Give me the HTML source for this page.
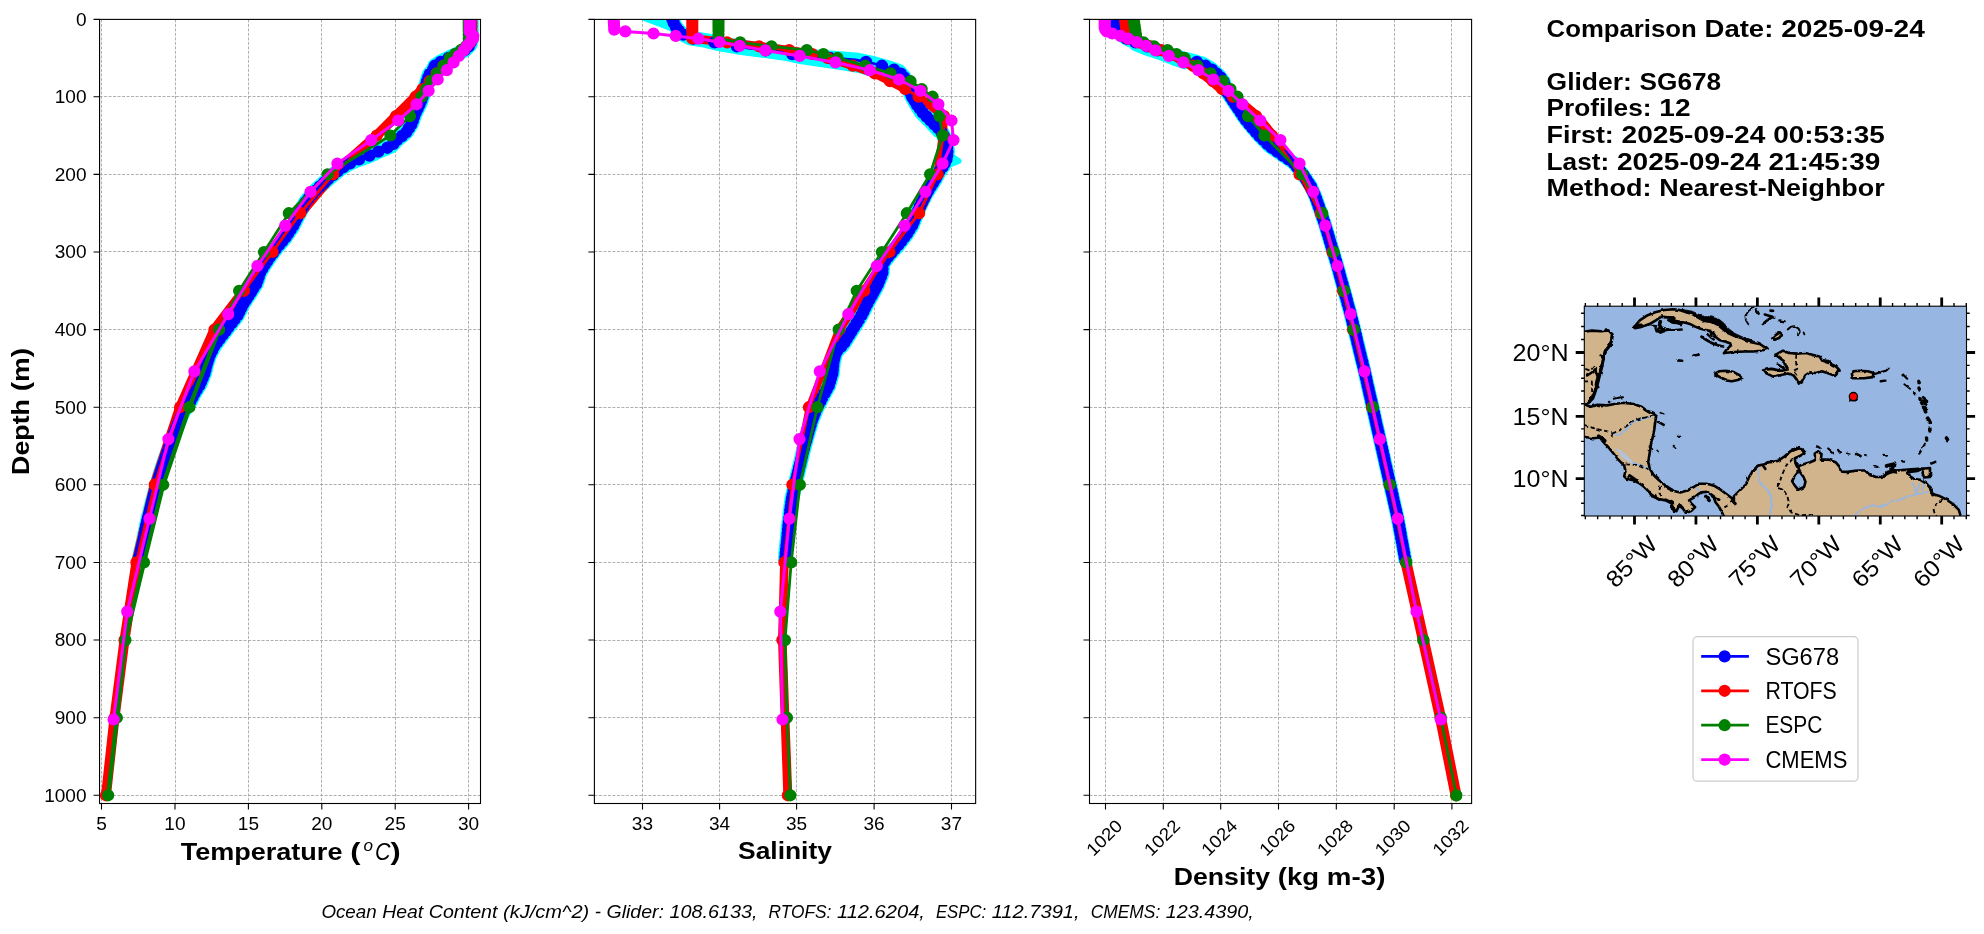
<!DOCTYPE html>
<html lang="en"><head><meta charset="utf-8"><title>Glider vs model comparison 2025-09-24</title>
<style>html,body{margin:0;padding:0;background:#fff}svg{display:block;will-change:transform}</style></head>
<body>
<svg width="1984" height="934" viewBox="0 0 1984 934" font-family="'Liberation Sans', sans-serif" fill="#000">
<rect width="1984" height="934" fill="#fff"/>
<g id="axes1">
<clipPath id="clip0"><rect x="99.55" y="19.4" width="380.95" height="784.1"/></clipPath>
<path d="M101.5 19.4V803.5M175.5 19.4V803.5M248.5 19.4V803.5M321.5 19.4V803.5M395.5 19.4V803.5M468.5 19.4V803.5M99.55 96.5H480.5M99.55 174.5H480.5M99.55 251.5H480.5M99.55 329.5H480.5M99.55 407.5H480.5M99.55 484.5H480.5M99.55 562.5H480.5M99.55 640.5H480.5M99.55 717.5H480.5M99.55 795.5H480.5" stroke="#9c9c9c" stroke-width="0.8" stroke-dasharray="3.0 1.5" fill="none"/>
<g clip-path="url(#clip0)">
<path d="M471.3 19.0L471.3 40.0L470.0 45.0L465.0 50.0L457.5 54.0L449.0 57.8L441.0 61.7L435.0 65.6L433.0 70.0L429.5 74.0L427.0 81.0L425.0 88.9L422.5 96.7L420.8 102.0L415.0 114.0L411.5 124.0L406.5 132.0L402.0 136.0L397.0 140.0L391.2 146.2L383.3 149.3L375.5 152.9L365.8 157.1L356.7 160.2L348.9 163.8L341.0 168.6L328.9 178.4L316.8 189.3L305.9 201.4L298.7 214.7L292.6 226.8L285.3 237.7L278.1 246.1L270.8 255.8L265.0 264.3L260.1 272.5L256.5 283.4L250.4 293.1L243.2 304.0L237.1 316.1L228.7 327.0L221.4 336.6L214.2 346.3L209.3 356.0L206.5 365.0L204.9 372.3L200.0 384.4L194.0 394.1L189.1 403.8L183.1 412.2L179.5 420.7L175.8 429.2L171.0 442.5L168.7 449.3L163.8 462.6L160.2 473.5L159.2 477.4L153.2 498.0L147.1 522.2L143.5 540.3L138.6 560.9" stroke="#00ffff" stroke-width="14.8" fill="none" stroke-linejoin="round" stroke-linecap="butt"/>
<path d="M471.0 19.1L471.0 20.7L471.0 22.2L471.0 23.8L471.0 25.3L471.0 26.9L471.0 28.4L471.0 30.7L471.0 34.6L471.0 38.5L470.0 42.4L466.5 46.3L461.5 50.1L455.5 54.0L450.5 57.9L443.5 65.7L436.5 73.4L429.5 81.2L422.5 89.0L415.5 96.7L396.0 116.1L376.7 135.5L333.1 174.3L300.3 213.2L272.5 252.0L244.0 290.8L214.5 329.6L180.1 407.2L154.7 484.8L136.4 562.4L124.5 640.1L114.5 717.7L106.0 795.3" stroke="#ff0000" stroke-width="10.0" fill="none" stroke-linejoin="round"/>
<path d="M471.3 19.0L471.3 40.0L470.0 45.0L465.0 50.0L457.5 54.0L449.0 57.8L441.0 61.7L435.0 65.6L433.0 70.0L429.5 74.0L427.0 81.0L425.0 88.9L422.5 96.7L420.8 102.0L415.0 114.0L411.5 124.0L406.5 132.0L402.0 136.0L397.0 140.0L391.2 146.2L383.3 149.3L375.5 152.9L365.8 157.1L356.7 160.2L348.9 163.8L341.0 168.6L328.9 178.4L316.8 189.3L305.9 201.4L298.7 214.7L292.6 226.8L285.3 237.7L278.1 246.1L270.8 255.8L265.0 264.3L260.1 272.5L256.5 283.4L250.4 293.1L243.2 304.0L237.1 316.1L228.7 327.0L221.4 336.6L214.2 346.3L209.3 356.0L206.5 365.0L204.9 372.3L200.0 384.4L194.0 394.1L189.1 403.8L183.1 412.2L179.5 420.7L175.8 429.2L171.0 442.5L168.7 449.3L163.8 462.6L160.2 473.5L159.2 477.4L153.2 498.0L147.1 522.2L143.5 540.3L138.6 560.9" stroke="#0000ff" stroke-width="2.8" fill="none" stroke-linejoin="round"/>
<path d="M465.1 19.0a6.199999999999999 6.199999999999999 0 1 0 12.399999999999999 0a6.199999999999999 6.199999999999999 0 1 0 -12.399999999999999 0zM465.1 22.9a6.199999999999999 6.199999999999999 0 1 0 12.399999999999999 0a6.199999999999999 6.199999999999999 0 1 0 -12.399999999999999 0zM465.1 26.8a6.199999999999999 6.199999999999999 0 1 0 12.399999999999999 0a6.199999999999999 6.199999999999999 0 1 0 -12.399999999999999 0zM465.1 30.7a6.199999999999999 6.199999999999999 0 1 0 12.399999999999999 0a6.199999999999999 6.199999999999999 0 1 0 -12.399999999999999 0zM465.1 34.6a6.199999999999999 6.199999999999999 0 1 0 12.399999999999999 0a6.199999999999999 6.199999999999999 0 1 0 -12.399999999999999 0zM465.1 38.5a6.199999999999999 6.199999999999999 0 1 0 12.399999999999999 0a6.199999999999999 6.199999999999999 0 1 0 -12.399999999999999 0zM464.5 42.4a6.199999999999999 6.199999999999999 0 1 0 12.399999999999999 0a6.199999999999999 6.199999999999999 0 1 0 -12.399999999999999 0zM462.5 46.3a6.199999999999999 6.199999999999999 0 1 0 12.399999999999999 0a6.199999999999999 6.199999999999999 0 1 0 -12.399999999999999 0zM458.4 50.2a6.199999999999999 6.199999999999999 0 1 0 12.399999999999999 0a6.199999999999999 6.199999999999999 0 1 0 -12.399999999999999 0zM451.1 54.1a6.199999999999999 6.199999999999999 0 1 0 12.399999999999999 0a6.199999999999999 6.199999999999999 0 1 0 -12.399999999999999 0zM442.4 58.0a6.199999999999999 6.199999999999999 0 1 0 12.399999999999999 0a6.199999999999999 6.199999999999999 0 1 0 -12.399999999999999 0zM434.5 61.9a6.199999999999999 6.199999999999999 0 1 0 12.399999999999999 0a6.199999999999999 6.199999999999999 0 1 0 -12.399999999999999 0zM428.7 65.8a6.199999999999999 6.199999999999999 0 1 0 12.399999999999999 0a6.199999999999999 6.199999999999999 0 1 0 -12.399999999999999 0zM426.9 69.7a6.199999999999999 6.199999999999999 0 1 0 12.399999999999999 0a6.199999999999999 6.199999999999999 0 1 0 -12.399999999999999 0zM423.7 73.6a6.199999999999999 6.199999999999999 0 1 0 12.399999999999999 0a6.199999999999999 6.199999999999999 0 1 0 -12.399999999999999 0zM422.1 77.5a6.199999999999999 6.199999999999999 0 1 0 12.399999999999999 0a6.199999999999999 6.199999999999999 0 1 0 -12.399999999999999 0zM420.7 81.4a6.199999999999999 6.199999999999999 0 1 0 12.399999999999999 0a6.199999999999999 6.199999999999999 0 1 0 -12.399999999999999 0zM419.7 85.3a6.199999999999999 6.199999999999999 0 1 0 12.399999999999999 0a6.199999999999999 6.199999999999999 0 1 0 -12.399999999999999 0zM418.7 89.2a6.199999999999999 6.199999999999999 0 1 0 12.399999999999999 0a6.199999999999999 6.199999999999999 0 1 0 -12.399999999999999 0zM417.4 93.1a6.199999999999999 6.199999999999999 0 1 0 12.399999999999999 0a6.199999999999999 6.199999999999999 0 1 0 -12.399999999999999 0zM416.2 97.0a6.199999999999999 6.199999999999999 0 1 0 12.399999999999999 0a6.199999999999999 6.199999999999999 0 1 0 -12.399999999999999 0zM414.9 100.9a6.199999999999999 6.199999999999999 0 1 0 12.399999999999999 0a6.199999999999999 6.199999999999999 0 1 0 -12.399999999999999 0zM413.2 104.8a6.199999999999999 6.199999999999999 0 1 0 12.399999999999999 0a6.199999999999999 6.199999999999999 0 1 0 -12.399999999999999 0zM411.4 108.7a6.199999999999999 6.199999999999999 0 1 0 12.399999999999999 0a6.199999999999999 6.199999999999999 0 1 0 -12.399999999999999 0zM409.5 112.6a6.199999999999999 6.199999999999999 0 1 0 12.399999999999999 0a6.199999999999999 6.199999999999999 0 1 0 -12.399999999999999 0zM407.9 116.5a6.199999999999999 6.199999999999999 0 1 0 12.399999999999999 0a6.199999999999999 6.199999999999999 0 1 0 -12.399999999999999 0zM406.6 120.4a6.199999999999999 6.199999999999999 0 1 0 12.399999999999999 0a6.199999999999999 6.199999999999999 0 1 0 -12.399999999999999 0zM405.1 124.3a6.199999999999999 6.199999999999999 0 1 0 12.399999999999999 0a6.199999999999999 6.199999999999999 0 1 0 -12.399999999999999 0zM402.7 128.2a6.199999999999999 6.199999999999999 0 1 0 12.399999999999999 0a6.199999999999999 6.199999999999999 0 1 0 -12.399999999999999 0zM400.2 132.1a6.199999999999999 6.199999999999999 0 1 0 12.399999999999999 0a6.199999999999999 6.199999999999999 0 1 0 -12.399999999999999 0zM395.8 136.0a6.199999999999999 6.199999999999999 0 1 0 12.399999999999999 0a6.199999999999999 6.199999999999999 0 1 0 -12.399999999999999 0zM390.9 139.9a6.199999999999999 6.199999999999999 0 1 0 12.399999999999999 0a6.199999999999999 6.199999999999999 0 1 0 -12.399999999999999 0zM387.2 143.8a6.199999999999999 6.199999999999999 0 1 0 12.399999999999999 0a6.199999999999999 6.199999999999999 0 1 0 -12.399999999999999 0zM381.2 147.7a6.199999999999999 6.199999999999999 0 1 0 12.399999999999999 0a6.199999999999999 6.199999999999999 0 1 0 -12.399999999999999 0zM372.1 151.6a6.199999999999999 6.199999999999999 0 1 0 12.399999999999999 0a6.199999999999999 6.199999999999999 0 1 0 -12.399999999999999 0zM363.3 155.5a6.199999999999999 6.199999999999999 0 1 0 12.399999999999999 0a6.199999999999999 6.199999999999999 0 1 0 -12.399999999999999 0zM352.8 159.4a6.199999999999999 6.199999999999999 0 1 0 12.399999999999999 0a6.199999999999999 6.199999999999999 0 1 0 -12.399999999999999 0zM343.8 163.3a6.199999999999999 6.199999999999999 0 1 0 12.399999999999999 0a6.199999999999999 6.199999999999999 0 1 0 -12.399999999999999 0zM337.1 167.2a6.199999999999999 6.199999999999999 0 1 0 12.399999999999999 0a6.199999999999999 6.199999999999999 0 1 0 -12.399999999999999 0zM331.7 171.1a6.199999999999999 6.199999999999999 0 1 0 12.399999999999999 0a6.199999999999999 6.199999999999999 0 1 0 -12.399999999999999 0zM326.9 175.0a6.199999999999999 6.199999999999999 0 1 0 12.399999999999999 0a6.199999999999999 6.199999999999999 0 1 0 -12.399999999999999 0zM322.1 178.9a6.199999999999999 6.199999999999999 0 1 0 12.399999999999999 0a6.199999999999999 6.199999999999999 0 1 0 -12.399999999999999 0zM317.8 182.8a6.199999999999999 6.199999999999999 0 1 0 12.399999999999999 0a6.199999999999999 6.199999999999999 0 1 0 -12.399999999999999 0zM313.5 186.7a6.199999999999999 6.199999999999999 0 1 0 12.399999999999999 0a6.199999999999999 6.199999999999999 0 1 0 -12.399999999999999 0zM309.4 190.6a6.199999999999999 6.199999999999999 0 1 0 12.399999999999999 0a6.199999999999999 6.199999999999999 0 1 0 -12.399999999999999 0zM305.9 194.5a6.199999999999999 6.199999999999999 0 1 0 12.399999999999999 0a6.199999999999999 6.199999999999999 0 1 0 -12.399999999999999 0zM302.4 198.4a6.199999999999999 6.199999999999999 0 1 0 12.399999999999999 0a6.199999999999999 6.199999999999999 0 1 0 -12.399999999999999 0zM299.2 202.3a6.199999999999999 6.199999999999999 0 1 0 12.399999999999999 0a6.199999999999999 6.199999999999999 0 1 0 -12.399999999999999 0zM297.1 206.2a6.199999999999999 6.199999999999999 0 1 0 12.399999999999999 0a6.199999999999999 6.199999999999999 0 1 0 -12.399999999999999 0zM295.0 210.1a6.199999999999999 6.199999999999999 0 1 0 12.399999999999999 0a6.199999999999999 6.199999999999999 0 1 0 -12.399999999999999 0zM292.9 214.0a6.199999999999999 6.199999999999999 0 1 0 12.399999999999999 0a6.199999999999999 6.199999999999999 0 1 0 -12.399999999999999 0zM290.9 217.9a6.199999999999999 6.199999999999999 0 1 0 12.399999999999999 0a6.199999999999999 6.199999999999999 0 1 0 -12.399999999999999 0zM288.9 221.8a6.199999999999999 6.199999999999999 0 1 0 12.399999999999999 0a6.199999999999999 6.199999999999999 0 1 0 -12.399999999999999 0zM287.0 225.7a6.199999999999999 6.199999999999999 0 1 0 12.399999999999999 0a6.199999999999999 6.199999999999999 0 1 0 -12.399999999999999 0zM284.5 229.6a6.199999999999999 6.199999999999999 0 1 0 12.399999999999999 0a6.199999999999999 6.199999999999999 0 1 0 -12.399999999999999 0zM281.9 233.5a6.199999999999999 6.199999999999999 0 1 0 12.399999999999999 0a6.199999999999999 6.199999999999999 0 1 0 -12.399999999999999 0zM279.3 237.4a6.199999999999999 6.199999999999999 0 1 0 12.399999999999999 0a6.199999999999999 6.199999999999999 0 1 0 -12.399999999999999 0zM276.0 241.3a6.199999999999999 6.199999999999999 0 1 0 12.399999999999999 0a6.199999999999999 6.199999999999999 0 1 0 -12.399999999999999 0zM272.7 245.2a6.199999999999999 6.199999999999999 0 1 0 12.399999999999999 0a6.199999999999999 6.199999999999999 0 1 0 -12.399999999999999 0zM269.6 249.1a6.199999999999999 6.199999999999999 0 1 0 12.399999999999999 0a6.199999999999999 6.199999999999999 0 1 0 -12.399999999999999 0zM266.7 253.0a6.199999999999999 6.199999999999999 0 1 0 12.399999999999999 0a6.199999999999999 6.199999999999999 0 1 0 -12.399999999999999 0zM263.8 256.9a6.199999999999999 6.199999999999999 0 1 0 12.399999999999999 0a6.199999999999999 6.199999999999999 0 1 0 -12.399999999999999 0zM261.2 260.8a6.199999999999999 6.199999999999999 0 1 0 12.399999999999999 0a6.199999999999999 6.199999999999999 0 1 0 -12.399999999999999 0zM258.6 264.7a6.199999999999999 6.199999999999999 0 1 0 12.399999999999999 0a6.199999999999999 6.199999999999999 0 1 0 -12.399999999999999 0zM256.2 268.6a6.199999999999999 6.199999999999999 0 1 0 12.399999999999999 0a6.199999999999999 6.199999999999999 0 1 0 -12.399999999999999 0zM253.9 272.5a6.199999999999999 6.199999999999999 0 1 0 12.399999999999999 0a6.199999999999999 6.199999999999999 0 1 0 -12.399999999999999 0zM252.6 276.4a6.199999999999999 6.199999999999999 0 1 0 12.399999999999999 0a6.199999999999999 6.199999999999999 0 1 0 -12.399999999999999 0zM251.3 280.3a6.199999999999999 6.199999999999999 0 1 0 12.399999999999999 0a6.199999999999999 6.199999999999999 0 1 0 -12.399999999999999 0zM249.8 284.2a6.199999999999999 6.199999999999999 0 1 0 12.399999999999999 0a6.199999999999999 6.199999999999999 0 1 0 -12.399999999999999 0zM247.3 288.1a6.199999999999999 6.199999999999999 0 1 0 12.399999999999999 0a6.199999999999999 6.199999999999999 0 1 0 -12.399999999999999 0zM244.9 292.0a6.199999999999999 6.199999999999999 0 1 0 12.399999999999999 0a6.199999999999999 6.199999999999999 0 1 0 -12.399999999999999 0zM242.4 295.9a6.199999999999999 6.199999999999999 0 1 0 12.399999999999999 0a6.199999999999999 6.199999999999999 0 1 0 -12.399999999999999 0zM239.8 299.8a6.199999999999999 6.199999999999999 0 1 0 12.399999999999999 0a6.199999999999999 6.199999999999999 0 1 0 -12.399999999999999 0zM237.2 303.7a6.199999999999999 6.199999999999999 0 1 0 12.399999999999999 0a6.199999999999999 6.199999999999999 0 1 0 -12.399999999999999 0zM235.2 307.6a6.199999999999999 6.199999999999999 0 1 0 12.399999999999999 0a6.199999999999999 6.199999999999999 0 1 0 -12.399999999999999 0zM233.2 311.5a6.199999999999999 6.199999999999999 0 1 0 12.399999999999999 0a6.199999999999999 6.199999999999999 0 1 0 -12.399999999999999 0zM231.3 315.4a6.199999999999999 6.199999999999999 0 1 0 12.399999999999999 0a6.199999999999999 6.199999999999999 0 1 0 -12.399999999999999 0zM228.4 319.3a6.199999999999999 6.199999999999999 0 1 0 12.399999999999999 0a6.199999999999999 6.199999999999999 0 1 0 -12.399999999999999 0zM225.4 323.2a6.199999999999999 6.199999999999999 0 1 0 12.399999999999999 0a6.199999999999999 6.199999999999999 0 1 0 -12.399999999999999 0zM222.4 327.1a6.199999999999999 6.199999999999999 0 1 0 12.399999999999999 0a6.199999999999999 6.199999999999999 0 1 0 -12.399999999999999 0zM219.5 331.0a6.199999999999999 6.199999999999999 0 1 0 12.399999999999999 0a6.199999999999999 6.199999999999999 0 1 0 -12.399999999999999 0zM216.5 334.9a6.199999999999999 6.199999999999999 0 1 0 12.399999999999999 0a6.199999999999999 6.199999999999999 0 1 0 -12.399999999999999 0zM213.6 338.8a6.199999999999999 6.199999999999999 0 1 0 12.399999999999999 0a6.199999999999999 6.199999999999999 0 1 0 -12.399999999999999 0zM210.7 342.7a6.199999999999999 6.199999999999999 0 1 0 12.399999999999999 0a6.199999999999999 6.199999999999999 0 1 0 -12.399999999999999 0zM207.8 346.6a6.199999999999999 6.199999999999999 0 1 0 12.399999999999999 0a6.199999999999999 6.199999999999999 0 1 0 -12.399999999999999 0zM205.9 350.5a6.199999999999999 6.199999999999999 0 1 0 12.399999999999999 0a6.199999999999999 6.199999999999999 0 1 0 -12.399999999999999 0zM203.9 354.4a6.199999999999999 6.199999999999999 0 1 0 12.399999999999999 0a6.199999999999999 6.199999999999999 0 1 0 -12.399999999999999 0zM202.4 358.3a6.199999999999999 6.199999999999999 0 1 0 12.399999999999999 0a6.199999999999999 6.199999999999999 0 1 0 -12.399999999999999 0zM201.2 362.2a6.199999999999999 6.199999999999999 0 1 0 12.399999999999999 0a6.199999999999999 6.199999999999999 0 1 0 -12.399999999999999 0zM200.1 366.1a6.199999999999999 6.199999999999999 0 1 0 12.399999999999999 0a6.199999999999999 6.199999999999999 0 1 0 -12.399999999999999 0zM199.2 370.0a6.199999999999999 6.199999999999999 0 1 0 12.399999999999999 0a6.199999999999999 6.199999999999999 0 1 0 -12.399999999999999 0zM198.1 373.9a6.199999999999999 6.199999999999999 0 1 0 12.399999999999999 0a6.199999999999999 6.199999999999999 0 1 0 -12.399999999999999 0zM196.5 377.8a6.199999999999999 6.199999999999999 0 1 0 12.399999999999999 0a6.199999999999999 6.199999999999999 0 1 0 -12.399999999999999 0zM194.9 381.7a6.199999999999999 6.199999999999999 0 1 0 12.399999999999999 0a6.199999999999999 6.199999999999999 0 1 0 -12.399999999999999 0zM193.1 385.6a6.199999999999999 6.199999999999999 0 1 0 12.399999999999999 0a6.199999999999999 6.199999999999999 0 1 0 -12.399999999999999 0zM190.6 389.5a6.199999999999999 6.199999999999999 0 1 0 12.399999999999999 0a6.199999999999999 6.199999999999999 0 1 0 -12.399999999999999 0zM188.2 393.4a6.199999999999999 6.199999999999999 0 1 0 12.399999999999999 0a6.199999999999999 6.199999999999999 0 1 0 -12.399999999999999 0zM186.2 397.3a6.199999999999999 6.199999999999999 0 1 0 12.399999999999999 0a6.199999999999999 6.199999999999999 0 1 0 -12.399999999999999 0zM184.2 401.2a6.199999999999999 6.199999999999999 0 1 0 12.399999999999999 0a6.199999999999999 6.199999999999999 0 1 0 -12.399999999999999 0zM182.0 405.1a6.199999999999999 6.199999999999999 0 1 0 12.399999999999999 0a6.199999999999999 6.199999999999999 0 1 0 -12.399999999999999 0zM179.2 409.0a6.199999999999999 6.199999999999999 0 1 0 12.399999999999999 0a6.199999999999999 6.199999999999999 0 1 0 -12.399999999999999 0zM176.6 412.9a6.199999999999999 6.199999999999999 0 1 0 12.399999999999999 0a6.199999999999999 6.199999999999999 0 1 0 -12.399999999999999 0zM175.0 416.8a6.199999999999999 6.199999999999999 0 1 0 12.399999999999999 0a6.199999999999999 6.199999999999999 0 1 0 -12.399999999999999 0zM173.3 420.7a6.199999999999999 6.199999999999999 0 1 0 12.399999999999999 0a6.199999999999999 6.199999999999999 0 1 0 -12.399999999999999 0zM171.6 424.6a6.199999999999999 6.199999999999999 0 1 0 12.399999999999999 0a6.199999999999999 6.199999999999999 0 1 0 -12.399999999999999 0zM169.9 428.5a6.199999999999999 6.199999999999999 0 1 0 12.399999999999999 0a6.199999999999999 6.199999999999999 0 1 0 -12.399999999999999 0zM168.4 432.4a6.199999999999999 6.199999999999999 0 1 0 12.399999999999999 0a6.199999999999999 6.199999999999999 0 1 0 -12.399999999999999 0zM167.0 436.3a6.199999999999999 6.199999999999999 0 1 0 12.399999999999999 0a6.199999999999999 6.199999999999999 0 1 0 -12.399999999999999 0zM165.6 440.2a6.199999999999999 6.199999999999999 0 1 0 12.399999999999999 0a6.199999999999999 6.199999999999999 0 1 0 -12.399999999999999 0zM164.3 444.1a6.199999999999999 6.199999999999999 0 1 0 12.399999999999999 0a6.199999999999999 6.199999999999999 0 1 0 -12.399999999999999 0zM162.9 448.0a6.199999999999999 6.199999999999999 0 1 0 12.399999999999999 0a6.199999999999999 6.199999999999999 0 1 0 -12.399999999999999 0zM161.5 451.9a6.199999999999999 6.199999999999999 0 1 0 12.399999999999999 0a6.199999999999999 6.199999999999999 0 1 0 -12.399999999999999 0zM160.1 455.8a6.199999999999999 6.199999999999999 0 1 0 12.399999999999999 0a6.199999999999999 6.199999999999999 0 1 0 -12.399999999999999 0zM158.7 459.7a6.199999999999999 6.199999999999999 0 1 0 12.399999999999999 0a6.199999999999999 6.199999999999999 0 1 0 -12.399999999999999 0zM157.3 463.6a6.199999999999999 6.199999999999999 0 1 0 12.399999999999999 0a6.199999999999999 6.199999999999999 0 1 0 -12.399999999999999 0zM156.0 467.5a6.199999999999999 6.199999999999999 0 1 0 12.399999999999999 0a6.199999999999999 6.199999999999999 0 1 0 -12.399999999999999 0zM154.7 471.4a6.199999999999999 6.199999999999999 0 1 0 12.399999999999999 0a6.199999999999999 6.199999999999999 0 1 0 -12.399999999999999 0zM153.5 475.3a6.199999999999999 6.199999999999999 0 1 0 12.399999999999999 0a6.199999999999999 6.199999999999999 0 1 0 -12.399999999999999 0zM152.5 479.2a6.199999999999999 6.199999999999999 0 1 0 12.399999999999999 0a6.199999999999999 6.199999999999999 0 1 0 -12.399999999999999 0zM151.3 483.1a6.199999999999999 6.199999999999999 0 1 0 12.399999999999999 0a6.199999999999999 6.199999999999999 0 1 0 -12.399999999999999 0zM150.2 487.0a6.199999999999999 6.199999999999999 0 1 0 12.399999999999999 0a6.199999999999999 6.199999999999999 0 1 0 -12.399999999999999 0zM149.1 490.9a6.199999999999999 6.199999999999999 0 1 0 12.399999999999999 0a6.199999999999999 6.199999999999999 0 1 0 -12.399999999999999 0zM147.9 494.8a6.199999999999999 6.199999999999999 0 1 0 12.399999999999999 0a6.199999999999999 6.199999999999999 0 1 0 -12.399999999999999 0zM146.8 498.7a6.199999999999999 6.199999999999999 0 1 0 12.399999999999999 0a6.199999999999999 6.199999999999999 0 1 0 -12.399999999999999 0zM145.8 502.6a6.199999999999999 6.199999999999999 0 1 0 12.399999999999999 0a6.199999999999999 6.199999999999999 0 1 0 -12.399999999999999 0zM144.9 506.5a6.199999999999999 6.199999999999999 0 1 0 12.399999999999999 0a6.199999999999999 6.199999999999999 0 1 0 -12.399999999999999 0zM143.9 510.4a6.199999999999999 6.199999999999999 0 1 0 12.399999999999999 0a6.199999999999999 6.199999999999999 0 1 0 -12.399999999999999 0zM142.9 514.3a6.199999999999999 6.199999999999999 0 1 0 12.399999999999999 0a6.199999999999999 6.199999999999999 0 1 0 -12.399999999999999 0zM141.9 518.2a6.199999999999999 6.199999999999999 0 1 0 12.399999999999999 0a6.199999999999999 6.199999999999999 0 1 0 -12.399999999999999 0zM140.9 522.1a6.199999999999999 6.199999999999999 0 1 0 12.399999999999999 0a6.199999999999999 6.199999999999999 0 1 0 -12.399999999999999 0zM140.1 526.0a6.199999999999999 6.199999999999999 0 1 0 12.399999999999999 0a6.199999999999999 6.199999999999999 0 1 0 -12.399999999999999 0zM139.4 529.9a6.199999999999999 6.199999999999999 0 1 0 12.399999999999999 0a6.199999999999999 6.199999999999999 0 1 0 -12.399999999999999 0zM138.6 533.8a6.199999999999999 6.199999999999999 0 1 0 12.399999999999999 0a6.199999999999999 6.199999999999999 0 1 0 -12.399999999999999 0zM137.8 537.7a6.199999999999999 6.199999999999999 0 1 0 12.399999999999999 0a6.199999999999999 6.199999999999999 0 1 0 -12.399999999999999 0zM137.0 541.6a6.199999999999999 6.199999999999999 0 1 0 12.399999999999999 0a6.199999999999999 6.199999999999999 0 1 0 -12.399999999999999 0zM136.1 545.5a6.199999999999999 6.199999999999999 0 1 0 12.399999999999999 0a6.199999999999999 6.199999999999999 0 1 0 -12.399999999999999 0zM135.1 549.4a6.199999999999999 6.199999999999999 0 1 0 12.399999999999999 0a6.199999999999999 6.199999999999999 0 1 0 -12.399999999999999 0zM134.2 553.3a6.199999999999999 6.199999999999999 0 1 0 12.399999999999999 0a6.199999999999999 6.199999999999999 0 1 0 -12.399999999999999 0zM133.3 557.2a6.199999999999999 6.199999999999999 0 1 0 12.399999999999999 0a6.199999999999999 6.199999999999999 0 1 0 -12.399999999999999 0z" fill="#0000ff"/>
<path d="M471.0 19.1L471.0 20.7L471.0 22.2L471.0 23.8L471.0 25.3L471.0 26.9L471.0 28.4L471.0 30.7L471.0 34.6L471.0 38.5L470.0 42.4L466.5 46.3L461.5 50.1L455.5 54.0L450.5 57.9L443.5 65.7L436.5 73.4L429.5 81.2L422.5 89.0L415.5 96.7L396.0 116.1L376.7 135.5L333.1 174.3L300.3 213.2L272.5 252.0L244.0 290.8L214.5 329.6L180.1 407.2L154.7 484.8L136.4 562.4L124.5 640.1L114.5 717.7L106.0 795.3" stroke="#ff0000" stroke-width="3.0" fill="none" stroke-linejoin="round"/><path d="M464.9 19.1a6.1 6.1 0 1 0 12.2 0a6.1 6.1 0 1 0 -12.2 0zM464.9 20.7a6.1 6.1 0 1 0 12.2 0a6.1 6.1 0 1 0 -12.2 0zM464.9 22.2a6.1 6.1 0 1 0 12.2 0a6.1 6.1 0 1 0 -12.2 0zM464.9 23.8a6.1 6.1 0 1 0 12.2 0a6.1 6.1 0 1 0 -12.2 0zM464.9 25.3a6.1 6.1 0 1 0 12.2 0a6.1 6.1 0 1 0 -12.2 0zM464.9 26.9a6.1 6.1 0 1 0 12.2 0a6.1 6.1 0 1 0 -12.2 0zM464.9 28.4a6.1 6.1 0 1 0 12.2 0a6.1 6.1 0 1 0 -12.2 0zM464.9 30.7a6.1 6.1 0 1 0 12.2 0a6.1 6.1 0 1 0 -12.2 0zM464.9 34.6a6.1 6.1 0 1 0 12.2 0a6.1 6.1 0 1 0 -12.2 0zM464.9 38.5a6.1 6.1 0 1 0 12.2 0a6.1 6.1 0 1 0 -12.2 0zM463.9 42.4a6.1 6.1 0 1 0 12.2 0a6.1 6.1 0 1 0 -12.2 0zM460.4 46.3a6.1 6.1 0 1 0 12.2 0a6.1 6.1 0 1 0 -12.2 0zM455.4 50.1a6.1 6.1 0 1 0 12.2 0a6.1 6.1 0 1 0 -12.2 0zM449.4 54.0a6.1 6.1 0 1 0 12.2 0a6.1 6.1 0 1 0 -12.2 0zM444.4 57.9a6.1 6.1 0 1 0 12.2 0a6.1 6.1 0 1 0 -12.2 0zM437.4 65.7a6.1 6.1 0 1 0 12.2 0a6.1 6.1 0 1 0 -12.2 0zM430.4 73.4a6.1 6.1 0 1 0 12.2 0a6.1 6.1 0 1 0 -12.2 0zM423.4 81.2a6.1 6.1 0 1 0 12.2 0a6.1 6.1 0 1 0 -12.2 0zM416.4 89.0a6.1 6.1 0 1 0 12.2 0a6.1 6.1 0 1 0 -12.2 0zM409.4 96.7a6.1 6.1 0 1 0 12.2 0a6.1 6.1 0 1 0 -12.2 0zM389.9 116.1a6.1 6.1 0 1 0 12.2 0a6.1 6.1 0 1 0 -12.2 0zM370.6 135.5a6.1 6.1 0 1 0 12.2 0a6.1 6.1 0 1 0 -12.2 0zM327.0 174.3a6.1 6.1 0 1 0 12.2 0a6.1 6.1 0 1 0 -12.2 0zM294.2 213.2a6.1 6.1 0 1 0 12.2 0a6.1 6.1 0 1 0 -12.2 0zM266.4 252.0a6.1 6.1 0 1 0 12.2 0a6.1 6.1 0 1 0 -12.2 0zM237.9 290.8a6.1 6.1 0 1 0 12.2 0a6.1 6.1 0 1 0 -12.2 0zM208.4 329.6a6.1 6.1 0 1 0 12.2 0a6.1 6.1 0 1 0 -12.2 0zM174.0 407.2a6.1 6.1 0 1 0 12.2 0a6.1 6.1 0 1 0 -12.2 0zM148.6 484.8a6.1 6.1 0 1 0 12.2 0a6.1 6.1 0 1 0 -12.2 0zM130.3 562.4a6.1 6.1 0 1 0 12.2 0a6.1 6.1 0 1 0 -12.2 0zM118.4 640.1a6.1 6.1 0 1 0 12.2 0a6.1 6.1 0 1 0 -12.2 0zM108.4 717.7a6.1 6.1 0 1 0 12.2 0a6.1 6.1 0 1 0 -12.2 0zM99.9 795.3a6.1 6.1 0 1 0 12.2 0a6.1 6.1 0 1 0 -12.2 0z" fill="#ff0000"/>
<path d="M219.1 329.6L189.4 407.2L163.2 484.8L144.0 562.4L125.4 640.1L116.9 717.7L108.2 795.3" stroke="#008000" stroke-width="4.3" fill="none" stroke-linejoin="round"/>
<path d="M468.7 19.1L468.7 20.7L468.7 22.2L468.7 23.8L468.7 25.3L468.7 26.9L468.7 28.4L468.7 30.7L468.7 34.6L468.7 38.5L468.7 42.4L466.0 46.3L461.0 50.1L455.0 54.0L450.0 57.9L443.5 65.7L437.0 73.4L431.0 81.2L426.0 89.0L421.5 96.7L410.0 116.1L390.4 135.5L327.6 174.3L288.8 213.2L264.0 252.0L239.1 290.8L219.1 329.6L189.4 407.2L163.2 484.8L144.0 562.4L125.4 640.1L116.9 717.7L108.2 795.3" stroke="#008000" stroke-width="2.8" fill="none" stroke-linejoin="round"/><path d="M462.6 19.1a6.1 6.1 0 1 0 12.2 0a6.1 6.1 0 1 0 -12.2 0zM462.6 20.7a6.1 6.1 0 1 0 12.2 0a6.1 6.1 0 1 0 -12.2 0zM462.6 22.2a6.1 6.1 0 1 0 12.2 0a6.1 6.1 0 1 0 -12.2 0zM462.6 23.8a6.1 6.1 0 1 0 12.2 0a6.1 6.1 0 1 0 -12.2 0zM462.6 25.3a6.1 6.1 0 1 0 12.2 0a6.1 6.1 0 1 0 -12.2 0zM462.6 26.9a6.1 6.1 0 1 0 12.2 0a6.1 6.1 0 1 0 -12.2 0zM462.6 28.4a6.1 6.1 0 1 0 12.2 0a6.1 6.1 0 1 0 -12.2 0zM462.6 30.7a6.1 6.1 0 1 0 12.2 0a6.1 6.1 0 1 0 -12.2 0zM462.6 34.6a6.1 6.1 0 1 0 12.2 0a6.1 6.1 0 1 0 -12.2 0zM462.6 38.5a6.1 6.1 0 1 0 12.2 0a6.1 6.1 0 1 0 -12.2 0zM462.6 42.4a6.1 6.1 0 1 0 12.2 0a6.1 6.1 0 1 0 -12.2 0zM459.9 46.3a6.1 6.1 0 1 0 12.2 0a6.1 6.1 0 1 0 -12.2 0zM454.9 50.1a6.1 6.1 0 1 0 12.2 0a6.1 6.1 0 1 0 -12.2 0zM448.9 54.0a6.1 6.1 0 1 0 12.2 0a6.1 6.1 0 1 0 -12.2 0zM443.9 57.9a6.1 6.1 0 1 0 12.2 0a6.1 6.1 0 1 0 -12.2 0zM437.4 65.7a6.1 6.1 0 1 0 12.2 0a6.1 6.1 0 1 0 -12.2 0zM430.9 73.4a6.1 6.1 0 1 0 12.2 0a6.1 6.1 0 1 0 -12.2 0zM424.9 81.2a6.1 6.1 0 1 0 12.2 0a6.1 6.1 0 1 0 -12.2 0zM419.9 89.0a6.1 6.1 0 1 0 12.2 0a6.1 6.1 0 1 0 -12.2 0zM415.4 96.7a6.1 6.1 0 1 0 12.2 0a6.1 6.1 0 1 0 -12.2 0zM403.9 116.1a6.1 6.1 0 1 0 12.2 0a6.1 6.1 0 1 0 -12.2 0zM384.3 135.5a6.1 6.1 0 1 0 12.2 0a6.1 6.1 0 1 0 -12.2 0zM321.5 174.3a6.1 6.1 0 1 0 12.2 0a6.1 6.1 0 1 0 -12.2 0zM282.7 213.2a6.1 6.1 0 1 0 12.2 0a6.1 6.1 0 1 0 -12.2 0zM257.9 252.0a6.1 6.1 0 1 0 12.2 0a6.1 6.1 0 1 0 -12.2 0zM233.0 290.8a6.1 6.1 0 1 0 12.2 0a6.1 6.1 0 1 0 -12.2 0zM213.0 329.6a6.1 6.1 0 1 0 12.2 0a6.1 6.1 0 1 0 -12.2 0zM183.3 407.2a6.1 6.1 0 1 0 12.2 0a6.1 6.1 0 1 0 -12.2 0zM157.1 484.8a6.1 6.1 0 1 0 12.2 0a6.1 6.1 0 1 0 -12.2 0zM137.9 562.4a6.1 6.1 0 1 0 12.2 0a6.1 6.1 0 1 0 -12.2 0zM119.3 640.1a6.1 6.1 0 1 0 12.2 0a6.1 6.1 0 1 0 -12.2 0zM110.8 717.7a6.1 6.1 0 1 0 12.2 0a6.1 6.1 0 1 0 -12.2 0zM102.1 795.3a6.1 6.1 0 1 0 12.2 0a6.1 6.1 0 1 0 -12.2 0z" fill="#008000"/>
<path d="M469.8 19.5L469.8 20.3L469.8 21.2L469.8 22.1L469.8 23.0L469.8 24.1L469.8 25.3L469.8 26.5L469.8 28.0L469.8 29.6L469.8 31.4L471.0 33.5L473.3 35.9L473.0 38.7L470.4 42.0L467.0 45.8L463.7 50.4L458.9 55.9L453.6 62.4L446.8 70.2L437.7 79.5L428.6 90.8L416.6 104.3L398.2 120.5L371.2 140.1L337.4 163.6L310.5 191.8L285.2 225.6L257.4 266.0L228.2 314.2L194.4 371.4L168.4 439.1L149.5 518.6L127.2 611.6L113.6 719.5" stroke="#ff00ff" stroke-width="3.0" fill="none" stroke-linejoin="round"/><path d="M463.7 19.5a6.1 6.1 0 1 0 12.2 0a6.1 6.1 0 1 0 -12.2 0zM463.7 20.3a6.1 6.1 0 1 0 12.2 0a6.1 6.1 0 1 0 -12.2 0zM463.7 21.2a6.1 6.1 0 1 0 12.2 0a6.1 6.1 0 1 0 -12.2 0zM463.7 22.1a6.1 6.1 0 1 0 12.2 0a6.1 6.1 0 1 0 -12.2 0zM463.7 23.0a6.1 6.1 0 1 0 12.2 0a6.1 6.1 0 1 0 -12.2 0zM463.7 24.1a6.1 6.1 0 1 0 12.2 0a6.1 6.1 0 1 0 -12.2 0zM463.7 25.3a6.1 6.1 0 1 0 12.2 0a6.1 6.1 0 1 0 -12.2 0zM463.7 26.5a6.1 6.1 0 1 0 12.2 0a6.1 6.1 0 1 0 -12.2 0zM463.7 28.0a6.1 6.1 0 1 0 12.2 0a6.1 6.1 0 1 0 -12.2 0zM463.7 29.6a6.1 6.1 0 1 0 12.2 0a6.1 6.1 0 1 0 -12.2 0zM463.7 31.4a6.1 6.1 0 1 0 12.2 0a6.1 6.1 0 1 0 -12.2 0zM464.9 33.5a6.1 6.1 0 1 0 12.2 0a6.1 6.1 0 1 0 -12.2 0zM467.2 35.9a6.1 6.1 0 1 0 12.2 0a6.1 6.1 0 1 0 -12.2 0zM466.9 38.7a6.1 6.1 0 1 0 12.2 0a6.1 6.1 0 1 0 -12.2 0zM464.3 42.0a6.1 6.1 0 1 0 12.2 0a6.1 6.1 0 1 0 -12.2 0zM460.9 45.8a6.1 6.1 0 1 0 12.2 0a6.1 6.1 0 1 0 -12.2 0zM457.6 50.4a6.1 6.1 0 1 0 12.2 0a6.1 6.1 0 1 0 -12.2 0zM452.8 55.9a6.1 6.1 0 1 0 12.2 0a6.1 6.1 0 1 0 -12.2 0zM447.5 62.4a6.1 6.1 0 1 0 12.2 0a6.1 6.1 0 1 0 -12.2 0zM440.7 70.2a6.1 6.1 0 1 0 12.2 0a6.1 6.1 0 1 0 -12.2 0zM431.6 79.5a6.1 6.1 0 1 0 12.2 0a6.1 6.1 0 1 0 -12.2 0zM422.5 90.8a6.1 6.1 0 1 0 12.2 0a6.1 6.1 0 1 0 -12.2 0zM410.5 104.3a6.1 6.1 0 1 0 12.2 0a6.1 6.1 0 1 0 -12.2 0zM392.1 120.5a6.1 6.1 0 1 0 12.2 0a6.1 6.1 0 1 0 -12.2 0zM365.1 140.1a6.1 6.1 0 1 0 12.2 0a6.1 6.1 0 1 0 -12.2 0zM331.3 163.6a6.1 6.1 0 1 0 12.2 0a6.1 6.1 0 1 0 -12.2 0zM304.4 191.8a6.1 6.1 0 1 0 12.2 0a6.1 6.1 0 1 0 -12.2 0zM279.1 225.6a6.1 6.1 0 1 0 12.2 0a6.1 6.1 0 1 0 -12.2 0zM251.3 266.0a6.1 6.1 0 1 0 12.2 0a6.1 6.1 0 1 0 -12.2 0zM222.1 314.2a6.1 6.1 0 1 0 12.2 0a6.1 6.1 0 1 0 -12.2 0zM188.3 371.4a6.1 6.1 0 1 0 12.2 0a6.1 6.1 0 1 0 -12.2 0zM162.3 439.1a6.1 6.1 0 1 0 12.2 0a6.1 6.1 0 1 0 -12.2 0zM143.4 518.6a6.1 6.1 0 1 0 12.2 0a6.1 6.1 0 1 0 -12.2 0zM121.1 611.6a6.1 6.1 0 1 0 12.2 0a6.1 6.1 0 1 0 -12.2 0zM107.5 719.5a6.1 6.1 0 1 0 12.2 0a6.1 6.1 0 1 0 -12.2 0z" fill="#ff00ff"/>
</g>
<rect x="99.55" y="19.4" width="380.95" height="784.1" fill="none" stroke="#000" stroke-width="1.1"/>
<path d="M101.50 803.5v6.0M175.00 803.5v6.0M248.40 803.5v6.0M321.80 803.5v6.0M395.20 803.5v6.0M468.60 803.5v6.0M99.55 19.40h-6.0M99.55 96.72h-6.0M99.55 174.34h-6.0M99.55 251.96h-6.0M99.55 329.58h-6.0M99.55 407.20h-6.0M99.55 484.82h-6.0M99.55 562.44h-6.0M99.55 640.06h-6.0M99.55 717.68h-6.0M99.55 795.30h-6.0" stroke="#000" stroke-width="1.1" fill="none"/>
<text y="829.80" font-size="17.59" x="96.20" textLength="10.61" lengthAdjust="spacingAndGlyphs">5</text>
<text y="829.80" font-size="17.59" x="164.39" textLength="21.21" lengthAdjust="spacingAndGlyphs">10</text>
<text y="829.80" font-size="17.59" x="237.79" textLength="21.21" lengthAdjust="spacingAndGlyphs">15</text>
<text y="829.80" font-size="17.59" x="311.19" textLength="21.21" lengthAdjust="spacingAndGlyphs">20</text>
<text y="829.80" font-size="17.59" x="384.59" textLength="21.21" lengthAdjust="spacingAndGlyphs">25</text>
<text y="829.80" font-size="17.59" x="457.99" textLength="21.21" lengthAdjust="spacingAndGlyphs">30</text>
</g>
<g id="axes2">
<clipPath id="clip1"><rect x="594.4" y="19.4" width="381.25" height="784.1"/></clipPath>
<path d="M642.5 19.4V803.5M719.5 19.4V803.5M796.5 19.4V803.5M874.5 19.4V803.5M951.5 19.4V803.5M594.4 96.5H975.65M594.4 174.5H975.65M594.4 251.5H975.65M594.4 329.5H975.65M594.4 407.5H975.65M594.4 484.5H975.65M594.4 562.5H975.65M594.4 640.5H975.65M594.4 717.5H975.65M594.4 795.5H975.65" stroke="#9c9c9c" stroke-width="0.8" stroke-dasharray="3.0 1.5" fill="none"/>
<g clip-path="url(#clip1)">
<path d="M672.2 19.0L674.5 25.0L678.0 30.0L683.0 34.5L690.0 38.0L706.0 40.5L724.0 44.5L749.0 48.0L776.0 51.5L804.0 56.0L830.0 58.0L855.7 59.8L873.8 63.5L887.9 67.5L899.0 71.5L904.0 77.0L907.0 85.0L910.0 92.0L912.0 96.6L917.0 105.0L923.0 113.0L930.0 120.0L938.0 128.0L943.0 134.0L946.0 142.0L947.5 150.0L947.0 158.0L944.0 165.0L939.0 172.0L935.4 179.0L925.7 194.7L919.7 206.8L912.4 225.0L906.3 234.7L897.9 245.5L889.4 255.2L882.8 263.7L882.2 273.4L877.3 285.5L873.4 292.6L867.4 303.5L861.3 315.6L855.3 325.3L849.2 335.0L843.2 344.6L835.9 351.9L833.5 361.6L832.3 373.7L828.7 385.8L822.7 396.6L816.6 408.7L811.8 420.8L808.2 432.9L804.5 446.2L800.3 463.2L797.3 475.3L791.7 499.4L788.8 523.0L785.8 552.4L785.2 561.9" stroke="#00ffff" stroke-width="14.8" fill="none" stroke-linejoin="round" stroke-linecap="butt"/>
<path d="M645.0 19.0L660.0 24.5L674.0 30.0" stroke="#00ffff" stroke-width="5" fill="none" stroke-linejoin="round" stroke-linecap="round"/>
<path d="M653.0 19.0L667.0 23.5L676.0 29.0" stroke="#00ffff" stroke-width="5" fill="none" stroke-linejoin="round" stroke-linecap="round"/>
<path d="M700.0 43.0L716.0 47.5L741.0 52.0L765.0 55.0L786.6 58.0L800.0 61.0L820.4 64.0L840.6 67.0L858.7 70.0L868.0 73.0" stroke="#00ffff" stroke-width="6" fill="none" stroke-linejoin="round" stroke-linecap="round"/>
<path d="M846.6 58.0L865.8 60.0L880.9 63.0L897.0 68.5L902.5 75.0" stroke="#00ffff" stroke-width="6" fill="none" stroke-linejoin="round" stroke-linecap="round"/>
<path d="M948.0 154.0L958.5 161.0L950.0 164.5" stroke="#00ffff" stroke-width="6" fill="none" stroke-linejoin="round" stroke-linecap="round"/>
<path d="M908.0 96.5L912.0 104.5L918.0 114.5L927.0 123.5L936.0 133.5" stroke="#00ffff" stroke-width="7" fill="none" stroke-linejoin="round" stroke-linecap="round"/>
<path d="M688.0 19.1L688.0 20.7L688.0 22.2L688.0 23.8L688.0 25.3L688.0 26.9L688.0 28.4L688.0 30.7L688.0 34.6L691.4 42.7L726.5 46.7L758.5 50.5L788.6 54.4L811.4 58.2L826.3 62.0L851.4 69.8L873.1 77.4L888.0 85.0L903.0 92.7L916.1 100.2L940.4 118.4L938.7 135.1L933.5 173.1L915.4 210.9L886.0 249.5L860.7 288.4L835.6 327.7L805.8 406.3L790.3 484.5L780.1 562.2L778.0 640.1L780.6 717.8L783.3 795.5L792.3 795.1L789.4 717.5L786.6 640.0L788.7 562.7L794.3 485.1L812.0 408.1L843.4 331.4L867.9 293.1L893.0 254.4L922.8 215.4L941.7 175.6L947.3 136.0L947.6 113.8L921.1 93.2L907.2 85.2L892.0 77.4L876.5 69.5L854.0 61.6L828.7 53.8L813.2 49.8L789.8 45.9L759.5 42.0L727.5 38.1L693.2 34.3L696.6 34.6L696.6 30.7L696.6 28.4L696.6 26.9L696.6 25.3L696.6 23.8L696.6 22.2L696.6 20.7L696.6 19.1Z" fill="#ff0000"/>
<path d="M672.2 19.0L674.5 25.0L678.0 30.0L683.0 34.5L690.0 38.0L706.0 40.5L724.0 44.5L749.0 48.0L776.0 51.5L804.0 56.0L830.0 58.0L855.7 59.8L873.8 63.5L887.9 67.5L899.0 71.5L904.0 77.0L907.0 85.0L910.0 92.0L912.0 96.6L917.0 105.0L923.0 113.0L930.0 120.0L938.0 128.0L943.0 134.0L946.0 142.0L947.5 150.0L947.0 158.0L944.0 165.0L939.0 172.0L935.4 179.0L925.7 194.7L919.7 206.8L912.4 225.0L906.3 234.7L897.9 245.5L889.4 255.2L882.8 263.7L882.2 273.4L877.3 285.5L873.4 292.6L867.4 303.5L861.3 315.6L855.3 325.3L849.2 335.0L843.2 344.6L835.9 351.9L833.5 361.6L832.3 373.7L828.7 385.8L822.7 396.6L816.6 408.7L811.8 420.8L808.2 432.9L804.5 446.2L800.3 463.2L797.3 475.3L791.7 499.4L788.8 523.0L785.8 552.4L785.2 561.9" stroke="#0000ff" stroke-width="2.8" fill="none" stroke-linejoin="round"/>
<path d="M666.0 19.0a6.199999999999999 6.199999999999999 0 1 0 12.399999999999999 0a6.199999999999999 6.199999999999999 0 1 0 -12.399999999999999 0zM667.5 22.9a6.199999999999999 6.199999999999999 0 1 0 12.399999999999999 0a6.199999999999999 6.199999999999999 0 1 0 -12.399999999999999 0zM669.6 26.8a6.199999999999999 6.199999999999999 0 1 0 12.399999999999999 0a6.199999999999999 6.199999999999999 0 1 0 -12.399999999999999 0zM672.6 30.7a6.199999999999999 6.199999999999999 0 1 0 12.399999999999999 0a6.199999999999999 6.199999999999999 0 1 0 -12.399999999999999 0zM677.0 34.6a6.199999999999999 6.199999999999999 0 1 0 12.399999999999999 0a6.199999999999999 6.199999999999999 0 1 0 -12.399999999999999 0zM687.0 38.5a6.199999999999999 6.199999999999999 0 1 0 12.399999999999999 0a6.199999999999999 6.199999999999999 0 1 0 -12.399999999999999 0zM708.3 42.4a6.199999999999999 6.199999999999999 0 1 0 12.399999999999999 0a6.199999999999999 6.199999999999999 0 1 0 -12.399999999999999 0zM730.7 46.3a6.199999999999999 6.199999999999999 0 1 0 12.399999999999999 0a6.199999999999999 6.199999999999999 0 1 0 -12.399999999999999 0zM759.8 50.2a6.199999999999999 6.199999999999999 0 1 0 12.399999999999999 0a6.199999999999999 6.199999999999999 0 1 0 -12.399999999999999 0zM786.0 54.1a6.199999999999999 6.199999999999999 0 1 0 12.399999999999999 0a6.199999999999999 6.199999999999999 0 1 0 -12.399999999999999 0zM823.8 58.0a6.199999999999999 6.199999999999999 0 1 0 12.399999999999999 0a6.199999999999999 6.199999999999999 0 1 0 -12.399999999999999 0zM859.8 61.9a6.199999999999999 6.199999999999999 0 1 0 12.399999999999999 0a6.199999999999999 6.199999999999999 0 1 0 -12.399999999999999 0zM875.7 65.8a6.199999999999999 6.199999999999999 0 1 0 12.399999999999999 0a6.199999999999999 6.199999999999999 0 1 0 -12.399999999999999 0zM887.8 69.7a6.199999999999999 6.199999999999999 0 1 0 12.399999999999999 0a6.199999999999999 6.199999999999999 0 1 0 -12.399999999999999 0zM894.7 73.6a6.199999999999999 6.199999999999999 0 1 0 12.399999999999999 0a6.199999999999999 6.199999999999999 0 1 0 -12.399999999999999 0zM898.0 77.5a6.199999999999999 6.199999999999999 0 1 0 12.399999999999999 0a6.199999999999999 6.199999999999999 0 1 0 -12.399999999999999 0zM899.4 81.4a6.199999999999999 6.199999999999999 0 1 0 12.399999999999999 0a6.199999999999999 6.199999999999999 0 1 0 -12.399999999999999 0zM900.9 85.3a6.199999999999999 6.199999999999999 0 1 0 12.399999999999999 0a6.199999999999999 6.199999999999999 0 1 0 -12.399999999999999 0zM902.6 89.2a6.199999999999999 6.199999999999999 0 1 0 12.399999999999999 0a6.199999999999999 6.199999999999999 0 1 0 -12.399999999999999 0zM904.3 93.1a6.199999999999999 6.199999999999999 0 1 0 12.399999999999999 0a6.199999999999999 6.199999999999999 0 1 0 -12.399999999999999 0zM906.0 97.0a6.199999999999999 6.199999999999999 0 1 0 12.399999999999999 0a6.199999999999999 6.199999999999999 0 1 0 -12.399999999999999 0zM908.4 100.9a6.199999999999999 6.199999999999999 0 1 0 12.399999999999999 0a6.199999999999999 6.199999999999999 0 1 0 -12.399999999999999 0zM910.7 104.8a6.199999999999999 6.199999999999999 0 1 0 12.399999999999999 0a6.199999999999999 6.199999999999999 0 1 0 -12.399999999999999 0zM913.6 108.7a6.199999999999999 6.199999999999999 0 1 0 12.399999999999999 0a6.199999999999999 6.199999999999999 0 1 0 -12.399999999999999 0zM916.5 112.6a6.199999999999999 6.199999999999999 0 1 0 12.399999999999999 0a6.199999999999999 6.199999999999999 0 1 0 -12.399999999999999 0zM920.3 116.5a6.199999999999999 6.199999999999999 0 1 0 12.399999999999999 0a6.199999999999999 6.199999999999999 0 1 0 -12.399999999999999 0zM924.2 120.4a6.199999999999999 6.199999999999999 0 1 0 12.399999999999999 0a6.199999999999999 6.199999999999999 0 1 0 -12.399999999999999 0zM928.1 124.3a6.199999999999999 6.199999999999999 0 1 0 12.399999999999999 0a6.199999999999999 6.199999999999999 0 1 0 -12.399999999999999 0zM932.0 128.2a6.199999999999999 6.199999999999999 0 1 0 12.399999999999999 0a6.199999999999999 6.199999999999999 0 1 0 -12.399999999999999 0zM935.2 132.1a6.199999999999999 6.199999999999999 0 1 0 12.399999999999999 0a6.199999999999999 6.199999999999999 0 1 0 -12.399999999999999 0zM937.5 136.0a6.199999999999999 6.199999999999999 0 1 0 12.399999999999999 0a6.199999999999999 6.199999999999999 0 1 0 -12.399999999999999 0zM939.0 139.9a6.199999999999999 6.199999999999999 0 1 0 12.399999999999999 0a6.199999999999999 6.199999999999999 0 1 0 -12.399999999999999 0zM940.1 143.8a6.199999999999999 6.199999999999999 0 1 0 12.399999999999999 0a6.199999999999999 6.199999999999999 0 1 0 -12.399999999999999 0zM940.9 147.7a6.199999999999999 6.199999999999999 0 1 0 12.399999999999999 0a6.199999999999999 6.199999999999999 0 1 0 -12.399999999999999 0zM941.2 151.6a6.199999999999999 6.199999999999999 0 1 0 12.399999999999999 0a6.199999999999999 6.199999999999999 0 1 0 -12.399999999999999 0zM941.0 155.5a6.199999999999999 6.199999999999999 0 1 0 12.399999999999999 0a6.199999999999999 6.199999999999999 0 1 0 -12.399999999999999 0zM940.2 159.4a6.199999999999999 6.199999999999999 0 1 0 12.399999999999999 0a6.199999999999999 6.199999999999999 0 1 0 -12.399999999999999 0zM938.5 163.3a6.199999999999999 6.199999999999999 0 1 0 12.399999999999999 0a6.199999999999999 6.199999999999999 0 1 0 -12.399999999999999 0zM936.2 167.2a6.199999999999999 6.199999999999999 0 1 0 12.399999999999999 0a6.199999999999999 6.199999999999999 0 1 0 -12.399999999999999 0zM933.4 171.1a6.199999999999999 6.199999999999999 0 1 0 12.399999999999999 0a6.199999999999999 6.199999999999999 0 1 0 -12.399999999999999 0zM931.3 175.0a6.199999999999999 6.199999999999999 0 1 0 12.399999999999999 0a6.199999999999999 6.199999999999999 0 1 0 -12.399999999999999 0zM929.3 178.9a6.199999999999999 6.199999999999999 0 1 0 12.399999999999999 0a6.199999999999999 6.199999999999999 0 1 0 -12.399999999999999 0zM926.9 182.8a6.199999999999999 6.199999999999999 0 1 0 12.399999999999999 0a6.199999999999999 6.199999999999999 0 1 0 -12.399999999999999 0zM924.4 186.7a6.199999999999999 6.199999999999999 0 1 0 12.399999999999999 0a6.199999999999999 6.199999999999999 0 1 0 -12.399999999999999 0zM922.0 190.6a6.199999999999999 6.199999999999999 0 1 0 12.399999999999999 0a6.199999999999999 6.199999999999999 0 1 0 -12.399999999999999 0zM919.6 194.5a6.199999999999999 6.199999999999999 0 1 0 12.399999999999999 0a6.199999999999999 6.199999999999999 0 1 0 -12.399999999999999 0zM917.7 198.4a6.199999999999999 6.199999999999999 0 1 0 12.399999999999999 0a6.199999999999999 6.199999999999999 0 1 0 -12.399999999999999 0zM915.7 202.3a6.199999999999999 6.199999999999999 0 1 0 12.399999999999999 0a6.199999999999999 6.199999999999999 0 1 0 -12.399999999999999 0zM913.8 206.2a6.199999999999999 6.199999999999999 0 1 0 12.399999999999999 0a6.199999999999999 6.199999999999999 0 1 0 -12.399999999999999 0zM912.2 210.1a6.199999999999999 6.199999999999999 0 1 0 12.399999999999999 0a6.199999999999999 6.199999999999999 0 1 0 -12.399999999999999 0zM910.6 214.0a6.199999999999999 6.199999999999999 0 1 0 12.399999999999999 0a6.199999999999999 6.199999999999999 0 1 0 -12.399999999999999 0zM909.0 217.9a6.199999999999999 6.199999999999999 0 1 0 12.399999999999999 0a6.199999999999999 6.199999999999999 0 1 0 -12.399999999999999 0zM907.5 221.8a6.199999999999999 6.199999999999999 0 1 0 12.399999999999999 0a6.199999999999999 6.199999999999999 0 1 0 -12.399999999999999 0zM905.8 225.7a6.199999999999999 6.199999999999999 0 1 0 12.399999999999999 0a6.199999999999999 6.199999999999999 0 1 0 -12.399999999999999 0zM903.3 229.6a6.199999999999999 6.199999999999999 0 1 0 12.399999999999999 0a6.199999999999999 6.199999999999999 0 1 0 -12.399999999999999 0zM900.9 233.5a6.199999999999999 6.199999999999999 0 1 0 12.399999999999999 0a6.199999999999999 6.199999999999999 0 1 0 -12.399999999999999 0zM898.0 237.4a6.199999999999999 6.199999999999999 0 1 0 12.399999999999999 0a6.199999999999999 6.199999999999999 0 1 0 -12.399999999999999 0zM895.0 241.3a6.199999999999999 6.199999999999999 0 1 0 12.399999999999999 0a6.199999999999999 6.199999999999999 0 1 0 -12.399999999999999 0zM891.9 245.2a6.199999999999999 6.199999999999999 0 1 0 12.399999999999999 0a6.199999999999999 6.199999999999999 0 1 0 -12.399999999999999 0zM888.5 249.1a6.199999999999999 6.199999999999999 0 1 0 12.399999999999999 0a6.199999999999999 6.199999999999999 0 1 0 -12.399999999999999 0zM885.1 253.0a6.199999999999999 6.199999999999999 0 1 0 12.399999999999999 0a6.199999999999999 6.199999999999999 0 1 0 -12.399999999999999 0zM881.9 256.9a6.199999999999999 6.199999999999999 0 1 0 12.399999999999999 0a6.199999999999999 6.199999999999999 0 1 0 -12.399999999999999 0zM878.9 260.8a6.199999999999999 6.199999999999999 0 1 0 12.399999999999999 0a6.199999999999999 6.199999999999999 0 1 0 -12.399999999999999 0zM876.5 264.7a6.199999999999999 6.199999999999999 0 1 0 12.399999999999999 0a6.199999999999999 6.199999999999999 0 1 0 -12.399999999999999 0zM876.3 268.6a6.199999999999999 6.199999999999999 0 1 0 12.399999999999999 0a6.199999999999999 6.199999999999999 0 1 0 -12.399999999999999 0zM876.1 272.5a6.199999999999999 6.199999999999999 0 1 0 12.399999999999999 0a6.199999999999999 6.199999999999999 0 1 0 -12.399999999999999 0zM874.8 276.4a6.199999999999999 6.199999999999999 0 1 0 12.399999999999999 0a6.199999999999999 6.199999999999999 0 1 0 -12.399999999999999 0zM873.2 280.3a6.199999999999999 6.199999999999999 0 1 0 12.399999999999999 0a6.199999999999999 6.199999999999999 0 1 0 -12.399999999999999 0zM871.6 284.2a6.199999999999999 6.199999999999999 0 1 0 12.399999999999999 0a6.199999999999999 6.199999999999999 0 1 0 -12.399999999999999 0zM869.7 288.1a6.199999999999999 6.199999999999999 0 1 0 12.399999999999999 0a6.199999999999999 6.199999999999999 0 1 0 -12.399999999999999 0zM867.5 292.0a6.199999999999999 6.199999999999999 0 1 0 12.399999999999999 0a6.199999999999999 6.199999999999999 0 1 0 -12.399999999999999 0zM865.4 295.9a6.199999999999999 6.199999999999999 0 1 0 12.399999999999999 0a6.199999999999999 6.199999999999999 0 1 0 -12.399999999999999 0zM863.2 299.8a6.199999999999999 6.199999999999999 0 1 0 12.399999999999999 0a6.199999999999999 6.199999999999999 0 1 0 -12.399999999999999 0zM861.1 303.7a6.199999999999999 6.199999999999999 0 1 0 12.399999999999999 0a6.199999999999999 6.199999999999999 0 1 0 -12.399999999999999 0zM859.1 307.6a6.199999999999999 6.199999999999999 0 1 0 12.399999999999999 0a6.199999999999999 6.199999999999999 0 1 0 -12.399999999999999 0zM857.2 311.5a6.199999999999999 6.199999999999999 0 1 0 12.399999999999999 0a6.199999999999999 6.199999999999999 0 1 0 -12.399999999999999 0zM855.2 315.4a6.199999999999999 6.199999999999999 0 1 0 12.399999999999999 0a6.199999999999999 6.199999999999999 0 1 0 -12.399999999999999 0zM852.8 319.3a6.199999999999999 6.199999999999999 0 1 0 12.399999999999999 0a6.199999999999999 6.199999999999999 0 1 0 -12.399999999999999 0zM850.4 323.2a6.199999999999999 6.199999999999999 0 1 0 12.399999999999999 0a6.199999999999999 6.199999999999999 0 1 0 -12.399999999999999 0zM848.0 327.1a6.199999999999999 6.199999999999999 0 1 0 12.399999999999999 0a6.199999999999999 6.199999999999999 0 1 0 -12.399999999999999 0zM845.5 331.0a6.199999999999999 6.199999999999999 0 1 0 12.399999999999999 0a6.199999999999999 6.199999999999999 0 1 0 -12.399999999999999 0zM843.1 334.9a6.199999999999999 6.199999999999999 0 1 0 12.399999999999999 0a6.199999999999999 6.199999999999999 0 1 0 -12.399999999999999 0zM840.6 338.8a6.199999999999999 6.199999999999999 0 1 0 12.399999999999999 0a6.199999999999999 6.199999999999999 0 1 0 -12.399999999999999 0zM838.2 342.7a6.199999999999999 6.199999999999999 0 1 0 12.399999999999999 0a6.199999999999999 6.199999999999999 0 1 0 -12.399999999999999 0zM835.0 346.6a6.199999999999999 6.199999999999999 0 1 0 12.399999999999999 0a6.199999999999999 6.199999999999999 0 1 0 -12.399999999999999 0zM831.1 350.5a6.199999999999999 6.199999999999999 0 1 0 12.399999999999999 0a6.199999999999999 6.199999999999999 0 1 0 -12.399999999999999 0zM829.1 354.4a6.199999999999999 6.199999999999999 0 1 0 12.399999999999999 0a6.199999999999999 6.199999999999999 0 1 0 -12.399999999999999 0zM828.1 358.3a6.199999999999999 6.199999999999999 0 1 0 12.399999999999999 0a6.199999999999999 6.199999999999999 0 1 0 -12.399999999999999 0zM827.2 362.2a6.199999999999999 6.199999999999999 0 1 0 12.399999999999999 0a6.199999999999999 6.199999999999999 0 1 0 -12.399999999999999 0zM826.9 366.1a6.199999999999999 6.199999999999999 0 1 0 12.399999999999999 0a6.199999999999999 6.199999999999999 0 1 0 -12.399999999999999 0zM826.5 370.0a6.199999999999999 6.199999999999999 0 1 0 12.399999999999999 0a6.199999999999999 6.199999999999999 0 1 0 -12.399999999999999 0zM826.0 373.9a6.199999999999999 6.199999999999999 0 1 0 12.399999999999999 0a6.199999999999999 6.199999999999999 0 1 0 -12.399999999999999 0zM824.9 377.8a6.199999999999999 6.199999999999999 0 1 0 12.399999999999999 0a6.199999999999999 6.199999999999999 0 1 0 -12.399999999999999 0zM823.7 381.7a6.199999999999999 6.199999999999999 0 1 0 12.399999999999999 0a6.199999999999999 6.199999999999999 0 1 0 -12.399999999999999 0zM822.6 385.6a6.199999999999999 6.199999999999999 0 1 0 12.399999999999999 0a6.199999999999999 6.199999999999999 0 1 0 -12.399999999999999 0zM820.4 389.5a6.199999999999999 6.199999999999999 0 1 0 12.399999999999999 0a6.199999999999999 6.199999999999999 0 1 0 -12.399999999999999 0zM818.3 393.4a6.199999999999999 6.199999999999999 0 1 0 12.399999999999999 0a6.199999999999999 6.199999999999999 0 1 0 -12.399999999999999 0zM816.1 397.3a6.199999999999999 6.199999999999999 0 1 0 12.399999999999999 0a6.199999999999999 6.199999999999999 0 1 0 -12.399999999999999 0zM814.2 401.2a6.199999999999999 6.199999999999999 0 1 0 12.399999999999999 0a6.199999999999999 6.199999999999999 0 1 0 -12.399999999999999 0zM812.2 405.1a6.199999999999999 6.199999999999999 0 1 0 12.399999999999999 0a6.199999999999999 6.199999999999999 0 1 0 -12.399999999999999 0zM810.3 409.0a6.199999999999999 6.199999999999999 0 1 0 12.399999999999999 0a6.199999999999999 6.199999999999999 0 1 0 -12.399999999999999 0zM808.7 412.9a6.199999999999999 6.199999999999999 0 1 0 12.399999999999999 0a6.199999999999999 6.199999999999999 0 1 0 -12.399999999999999 0zM807.2 416.8a6.199999999999999 6.199999999999999 0 1 0 12.399999999999999 0a6.199999999999999 6.199999999999999 0 1 0 -12.399999999999999 0zM805.6 420.7a6.199999999999999 6.199999999999999 0 1 0 12.399999999999999 0a6.199999999999999 6.199999999999999 0 1 0 -12.399999999999999 0zM804.5 424.6a6.199999999999999 6.199999999999999 0 1 0 12.399999999999999 0a6.199999999999999 6.199999999999999 0 1 0 -12.399999999999999 0zM803.3 428.5a6.199999999999999 6.199999999999999 0 1 0 12.399999999999999 0a6.199999999999999 6.199999999999999 0 1 0 -12.399999999999999 0zM802.1 432.4a6.199999999999999 6.199999999999999 0 1 0 12.399999999999999 0a6.199999999999999 6.199999999999999 0 1 0 -12.399999999999999 0zM801.1 436.3a6.199999999999999 6.199999999999999 0 1 0 12.399999999999999 0a6.199999999999999 6.199999999999999 0 1 0 -12.399999999999999 0zM800.0 440.2a6.199999999999999 6.199999999999999 0 1 0 12.399999999999999 0a6.199999999999999 6.199999999999999 0 1 0 -12.399999999999999 0zM798.9 444.1a6.199999999999999 6.199999999999999 0 1 0 12.399999999999999 0a6.199999999999999 6.199999999999999 0 1 0 -12.399999999999999 0zM797.9 448.0a6.199999999999999 6.199999999999999 0 1 0 12.399999999999999 0a6.199999999999999 6.199999999999999 0 1 0 -12.399999999999999 0zM796.9 451.9a6.199999999999999 6.199999999999999 0 1 0 12.399999999999999 0a6.199999999999999 6.199999999999999 0 1 0 -12.399999999999999 0zM795.9 455.8a6.199999999999999 6.199999999999999 0 1 0 12.399999999999999 0a6.199999999999999 6.199999999999999 0 1 0 -12.399999999999999 0zM795.0 459.7a6.199999999999999 6.199999999999999 0 1 0 12.399999999999999 0a6.199999999999999 6.199999999999999 0 1 0 -12.399999999999999 0zM794.0 463.6a6.199999999999999 6.199999999999999 0 1 0 12.399999999999999 0a6.199999999999999 6.199999999999999 0 1 0 -12.399999999999999 0zM793.0 467.5a6.199999999999999 6.199999999999999 0 1 0 12.399999999999999 0a6.199999999999999 6.199999999999999 0 1 0 -12.399999999999999 0zM792.1 471.4a6.199999999999999 6.199999999999999 0 1 0 12.399999999999999 0a6.199999999999999 6.199999999999999 0 1 0 -12.399999999999999 0zM791.1 475.3a6.199999999999999 6.199999999999999 0 1 0 12.399999999999999 0a6.199999999999999 6.199999999999999 0 1 0 -12.399999999999999 0zM790.2 479.2a6.199999999999999 6.199999999999999 0 1 0 12.399999999999999 0a6.199999999999999 6.199999999999999 0 1 0 -12.399999999999999 0zM789.3 483.1a6.199999999999999 6.199999999999999 0 1 0 12.399999999999999 0a6.199999999999999 6.199999999999999 0 1 0 -12.399999999999999 0zM788.4 487.0a6.199999999999999 6.199999999999999 0 1 0 12.399999999999999 0a6.199999999999999 6.199999999999999 0 1 0 -12.399999999999999 0zM787.5 490.9a6.199999999999999 6.199999999999999 0 1 0 12.399999999999999 0a6.199999999999999 6.199999999999999 0 1 0 -12.399999999999999 0zM786.6 494.8a6.199999999999999 6.199999999999999 0 1 0 12.399999999999999 0a6.199999999999999 6.199999999999999 0 1 0 -12.399999999999999 0zM785.7 498.7a6.199999999999999 6.199999999999999 0 1 0 12.399999999999999 0a6.199999999999999 6.199999999999999 0 1 0 -12.399999999999999 0zM785.1 502.6a6.199999999999999 6.199999999999999 0 1 0 12.399999999999999 0a6.199999999999999 6.199999999999999 0 1 0 -12.399999999999999 0zM784.6 506.5a6.199999999999999 6.199999999999999 0 1 0 12.399999999999999 0a6.199999999999999 6.199999999999999 0 1 0 -12.399999999999999 0zM784.1 510.4a6.199999999999999 6.199999999999999 0 1 0 12.399999999999999 0a6.199999999999999 6.199999999999999 0 1 0 -12.399999999999999 0zM783.7 514.3a6.199999999999999 6.199999999999999 0 1 0 12.399999999999999 0a6.199999999999999 6.199999999999999 0 1 0 -12.399999999999999 0zM783.2 518.2a6.199999999999999 6.199999999999999 0 1 0 12.399999999999999 0a6.199999999999999 6.199999999999999 0 1 0 -12.399999999999999 0zM782.7 522.1a6.199999999999999 6.199999999999999 0 1 0 12.399999999999999 0a6.199999999999999 6.199999999999999 0 1 0 -12.399999999999999 0zM782.3 526.0a6.199999999999999 6.199999999999999 0 1 0 12.399999999999999 0a6.199999999999999 6.199999999999999 0 1 0 -12.399999999999999 0zM781.9 529.9a6.199999999999999 6.199999999999999 0 1 0 12.399999999999999 0a6.199999999999999 6.199999999999999 0 1 0 -12.399999999999999 0zM781.5 533.8a6.199999999999999 6.199999999999999 0 1 0 12.399999999999999 0a6.199999999999999 6.199999999999999 0 1 0 -12.399999999999999 0zM781.1 537.7a6.199999999999999 6.199999999999999 0 1 0 12.399999999999999 0a6.199999999999999 6.199999999999999 0 1 0 -12.399999999999999 0zM780.7 541.6a6.199999999999999 6.199999999999999 0 1 0 12.399999999999999 0a6.199999999999999 6.199999999999999 0 1 0 -12.399999999999999 0zM780.3 545.5a6.199999999999999 6.199999999999999 0 1 0 12.399999999999999 0a6.199999999999999 6.199999999999999 0 1 0 -12.399999999999999 0zM779.9 549.4a6.199999999999999 6.199999999999999 0 1 0 12.399999999999999 0a6.199999999999999 6.199999999999999 0 1 0 -12.399999999999999 0zM779.5 553.3a6.199999999999999 6.199999999999999 0 1 0 12.399999999999999 0a6.199999999999999 6.199999999999999 0 1 0 -12.399999999999999 0zM779.3 557.2a6.199999999999999 6.199999999999999 0 1 0 12.399999999999999 0a6.199999999999999 6.199999999999999 0 1 0 -12.399999999999999 0zM779.1 561.1a6.199999999999999 6.199999999999999 0 1 0 12.399999999999999 0a6.199999999999999 6.199999999999999 0 1 0 -12.399999999999999 0z" fill="#0000ff"/>
<path d="M692.3 19.1L692.3 20.7L692.3 22.2L692.3 23.8L692.3 25.3L692.3 26.9L692.3 28.4L692.3 30.7L692.3 34.6L692.3 38.5L727.0 42.4L759.0 46.3L789.2 50.1L812.3 54.0L827.5 57.9L852.7 65.7L874.8 73.4L890.0 81.2L905.1 89.0L918.6 96.7L944.0 116.1L943.0 135.5L937.6 174.3L919.1 213.2L889.5 252.0L864.3 290.8L839.5 329.6L808.9 407.2L792.3 484.8L784.4 562.4L782.3 640.1L785.0 717.7L787.8 795.3" stroke="#ff0000" stroke-width="3.0" fill="none" stroke-linejoin="round"/><path d="M686.2 19.1a6.1 6.1 0 1 0 12.2 0a6.1 6.1 0 1 0 -12.2 0zM686.2 20.7a6.1 6.1 0 1 0 12.2 0a6.1 6.1 0 1 0 -12.2 0zM686.2 22.2a6.1 6.1 0 1 0 12.2 0a6.1 6.1 0 1 0 -12.2 0zM686.2 23.8a6.1 6.1 0 1 0 12.2 0a6.1 6.1 0 1 0 -12.2 0zM686.2 25.3a6.1 6.1 0 1 0 12.2 0a6.1 6.1 0 1 0 -12.2 0zM686.2 26.9a6.1 6.1 0 1 0 12.2 0a6.1 6.1 0 1 0 -12.2 0zM686.2 28.4a6.1 6.1 0 1 0 12.2 0a6.1 6.1 0 1 0 -12.2 0zM686.2 30.7a6.1 6.1 0 1 0 12.2 0a6.1 6.1 0 1 0 -12.2 0zM686.2 34.6a6.1 6.1 0 1 0 12.2 0a6.1 6.1 0 1 0 -12.2 0zM686.2 38.5a6.1 6.1 0 1 0 12.2 0a6.1 6.1 0 1 0 -12.2 0zM720.9 42.4a6.1 6.1 0 1 0 12.2 0a6.1 6.1 0 1 0 -12.2 0zM752.9 46.3a6.1 6.1 0 1 0 12.2 0a6.1 6.1 0 1 0 -12.2 0zM783.1 50.1a6.1 6.1 0 1 0 12.2 0a6.1 6.1 0 1 0 -12.2 0zM806.2 54.0a6.1 6.1 0 1 0 12.2 0a6.1 6.1 0 1 0 -12.2 0zM821.4 57.9a6.1 6.1 0 1 0 12.2 0a6.1 6.1 0 1 0 -12.2 0zM846.6 65.7a6.1 6.1 0 1 0 12.2 0a6.1 6.1 0 1 0 -12.2 0zM868.7 73.4a6.1 6.1 0 1 0 12.2 0a6.1 6.1 0 1 0 -12.2 0zM883.9 81.2a6.1 6.1 0 1 0 12.2 0a6.1 6.1 0 1 0 -12.2 0zM899.0 89.0a6.1 6.1 0 1 0 12.2 0a6.1 6.1 0 1 0 -12.2 0zM912.5 96.7a6.1 6.1 0 1 0 12.2 0a6.1 6.1 0 1 0 -12.2 0zM937.9 116.1a6.1 6.1 0 1 0 12.2 0a6.1 6.1 0 1 0 -12.2 0zM936.9 135.5a6.1 6.1 0 1 0 12.2 0a6.1 6.1 0 1 0 -12.2 0zM931.5 174.3a6.1 6.1 0 1 0 12.2 0a6.1 6.1 0 1 0 -12.2 0zM913.0 213.2a6.1 6.1 0 1 0 12.2 0a6.1 6.1 0 1 0 -12.2 0zM883.4 252.0a6.1 6.1 0 1 0 12.2 0a6.1 6.1 0 1 0 -12.2 0zM858.2 290.8a6.1 6.1 0 1 0 12.2 0a6.1 6.1 0 1 0 -12.2 0zM833.4 329.6a6.1 6.1 0 1 0 12.2 0a6.1 6.1 0 1 0 -12.2 0zM802.8 407.2a6.1 6.1 0 1 0 12.2 0a6.1 6.1 0 1 0 -12.2 0zM786.2 484.8a6.1 6.1 0 1 0 12.2 0a6.1 6.1 0 1 0 -12.2 0zM778.3 562.4a6.1 6.1 0 1 0 12.2 0a6.1 6.1 0 1 0 -12.2 0zM776.2 640.1a6.1 6.1 0 1 0 12.2 0a6.1 6.1 0 1 0 -12.2 0zM778.9 717.7a6.1 6.1 0 1 0 12.2 0a6.1 6.1 0 1 0 -12.2 0zM781.7 795.3a6.1 6.1 0 1 0 12.2 0a6.1 6.1 0 1 0 -12.2 0z" fill="#ff0000"/>
<path d="M718.5 19.1L718.5 20.7L718.5 22.2L718.5 23.8L718.5 25.3L718.5 26.9L718.5 28.4L718.5 30.7L718.5 34.6L718.5 38.5L740.2 42.4L771.5 46.3L806.8 50.1L823.4 54.0L837.5 57.9L865.3 65.7L890.5 73.4L910.6 81.2L921.7 89.0L932.6 96.7L939.4 116.1L942.6 135.5L930.1 174.3L906.8 213.2L881.9 252.0L856.7 290.8L838.6 329.6L817.4 407.2L799.9 484.8L791.2 562.4L785.0 640.1L787.0 717.7L790.4 795.3" stroke="#008000" stroke-width="2.8" fill="none" stroke-linejoin="round"/><path d="M712.4 19.1a6.1 6.1 0 1 0 12.2 0a6.1 6.1 0 1 0 -12.2 0zM712.4 20.7a6.1 6.1 0 1 0 12.2 0a6.1 6.1 0 1 0 -12.2 0zM712.4 22.2a6.1 6.1 0 1 0 12.2 0a6.1 6.1 0 1 0 -12.2 0zM712.4 23.8a6.1 6.1 0 1 0 12.2 0a6.1 6.1 0 1 0 -12.2 0zM712.4 25.3a6.1 6.1 0 1 0 12.2 0a6.1 6.1 0 1 0 -12.2 0zM712.4 26.9a6.1 6.1 0 1 0 12.2 0a6.1 6.1 0 1 0 -12.2 0zM712.4 28.4a6.1 6.1 0 1 0 12.2 0a6.1 6.1 0 1 0 -12.2 0zM712.4 30.7a6.1 6.1 0 1 0 12.2 0a6.1 6.1 0 1 0 -12.2 0zM712.4 34.6a6.1 6.1 0 1 0 12.2 0a6.1 6.1 0 1 0 -12.2 0zM712.4 38.5a6.1 6.1 0 1 0 12.2 0a6.1 6.1 0 1 0 -12.2 0zM734.1 42.4a6.1 6.1 0 1 0 12.2 0a6.1 6.1 0 1 0 -12.2 0zM765.4 46.3a6.1 6.1 0 1 0 12.2 0a6.1 6.1 0 1 0 -12.2 0zM800.7 50.1a6.1 6.1 0 1 0 12.2 0a6.1 6.1 0 1 0 -12.2 0zM817.3 54.0a6.1 6.1 0 1 0 12.2 0a6.1 6.1 0 1 0 -12.2 0zM831.4 57.9a6.1 6.1 0 1 0 12.2 0a6.1 6.1 0 1 0 -12.2 0zM859.2 65.7a6.1 6.1 0 1 0 12.2 0a6.1 6.1 0 1 0 -12.2 0zM884.4 73.4a6.1 6.1 0 1 0 12.2 0a6.1 6.1 0 1 0 -12.2 0zM904.5 81.2a6.1 6.1 0 1 0 12.2 0a6.1 6.1 0 1 0 -12.2 0zM915.6 89.0a6.1 6.1 0 1 0 12.2 0a6.1 6.1 0 1 0 -12.2 0zM926.5 96.7a6.1 6.1 0 1 0 12.2 0a6.1 6.1 0 1 0 -12.2 0zM933.3 116.1a6.1 6.1 0 1 0 12.2 0a6.1 6.1 0 1 0 -12.2 0zM936.5 135.5a6.1 6.1 0 1 0 12.2 0a6.1 6.1 0 1 0 -12.2 0zM924.0 174.3a6.1 6.1 0 1 0 12.2 0a6.1 6.1 0 1 0 -12.2 0zM900.7 213.2a6.1 6.1 0 1 0 12.2 0a6.1 6.1 0 1 0 -12.2 0zM875.8 252.0a6.1 6.1 0 1 0 12.2 0a6.1 6.1 0 1 0 -12.2 0zM850.6 290.8a6.1 6.1 0 1 0 12.2 0a6.1 6.1 0 1 0 -12.2 0zM832.5 329.6a6.1 6.1 0 1 0 12.2 0a6.1 6.1 0 1 0 -12.2 0zM811.3 407.2a6.1 6.1 0 1 0 12.2 0a6.1 6.1 0 1 0 -12.2 0zM793.8 484.8a6.1 6.1 0 1 0 12.2 0a6.1 6.1 0 1 0 -12.2 0zM785.1 562.4a6.1 6.1 0 1 0 12.2 0a6.1 6.1 0 1 0 -12.2 0zM778.9 640.1a6.1 6.1 0 1 0 12.2 0a6.1 6.1 0 1 0 -12.2 0zM780.9 717.7a6.1 6.1 0 1 0 12.2 0a6.1 6.1 0 1 0 -12.2 0zM784.3 795.3a6.1 6.1 0 1 0 12.2 0a6.1 6.1 0 1 0 -12.2 0z" fill="#008000"/>
<path d="M613.7 19.5L613.8 20.3L613.8 21.2L613.9 22.1L613.9 23.0L614.0 24.1L614.0 25.3L614.1 26.5L614.2 28.0L614.2 29.6L625.3 31.4L653.5 33.5L675.7 35.9L698.4 38.7L719.5 42.0L739.7 45.8L765.4 50.4L799.7 55.9L835.5 62.4L869.8 70.2L899.0 79.5L920.5 90.8L938.4 104.3L951.5 120.5L953.5 140.1L942.6 163.6L925.4 191.8L904.6 225.6L876.8 266.0L848.3 314.2L819.8 371.4L799.5 439.1L789.4 518.6L780.3 611.6L782.5 719.5" stroke="#ff00ff" stroke-width="3.0" fill="none" stroke-linejoin="round"/><path d="M607.6 19.5a6.1 6.1 0 1 0 12.2 0a6.1 6.1 0 1 0 -12.2 0zM607.7 20.3a6.1 6.1 0 1 0 12.2 0a6.1 6.1 0 1 0 -12.2 0zM607.7 21.2a6.1 6.1 0 1 0 12.2 0a6.1 6.1 0 1 0 -12.2 0zM607.8 22.1a6.1 6.1 0 1 0 12.2 0a6.1 6.1 0 1 0 -12.2 0zM607.8 23.0a6.1 6.1 0 1 0 12.2 0a6.1 6.1 0 1 0 -12.2 0zM607.9 24.1a6.1 6.1 0 1 0 12.2 0a6.1 6.1 0 1 0 -12.2 0zM607.9 25.3a6.1 6.1 0 1 0 12.2 0a6.1 6.1 0 1 0 -12.2 0zM608.0 26.5a6.1 6.1 0 1 0 12.2 0a6.1 6.1 0 1 0 -12.2 0zM608.1 28.0a6.1 6.1 0 1 0 12.2 0a6.1 6.1 0 1 0 -12.2 0zM608.1 29.6a6.1 6.1 0 1 0 12.2 0a6.1 6.1 0 1 0 -12.2 0zM619.2 31.4a6.1 6.1 0 1 0 12.2 0a6.1 6.1 0 1 0 -12.2 0zM647.4 33.5a6.1 6.1 0 1 0 12.2 0a6.1 6.1 0 1 0 -12.2 0zM669.6 35.9a6.1 6.1 0 1 0 12.2 0a6.1 6.1 0 1 0 -12.2 0zM692.3 38.7a6.1 6.1 0 1 0 12.2 0a6.1 6.1 0 1 0 -12.2 0zM713.4 42.0a6.1 6.1 0 1 0 12.2 0a6.1 6.1 0 1 0 -12.2 0zM733.6 45.8a6.1 6.1 0 1 0 12.2 0a6.1 6.1 0 1 0 -12.2 0zM759.3 50.4a6.1 6.1 0 1 0 12.2 0a6.1 6.1 0 1 0 -12.2 0zM793.6 55.9a6.1 6.1 0 1 0 12.2 0a6.1 6.1 0 1 0 -12.2 0zM829.4 62.4a6.1 6.1 0 1 0 12.2 0a6.1 6.1 0 1 0 -12.2 0zM863.7 70.2a6.1 6.1 0 1 0 12.2 0a6.1 6.1 0 1 0 -12.2 0zM892.9 79.5a6.1 6.1 0 1 0 12.2 0a6.1 6.1 0 1 0 -12.2 0zM914.4 90.8a6.1 6.1 0 1 0 12.2 0a6.1 6.1 0 1 0 -12.2 0zM932.3 104.3a6.1 6.1 0 1 0 12.2 0a6.1 6.1 0 1 0 -12.2 0zM945.4 120.5a6.1 6.1 0 1 0 12.2 0a6.1 6.1 0 1 0 -12.2 0zM947.4 140.1a6.1 6.1 0 1 0 12.2 0a6.1 6.1 0 1 0 -12.2 0zM936.5 163.6a6.1 6.1 0 1 0 12.2 0a6.1 6.1 0 1 0 -12.2 0zM919.3 191.8a6.1 6.1 0 1 0 12.2 0a6.1 6.1 0 1 0 -12.2 0zM898.5 225.6a6.1 6.1 0 1 0 12.2 0a6.1 6.1 0 1 0 -12.2 0zM870.7 266.0a6.1 6.1 0 1 0 12.2 0a6.1 6.1 0 1 0 -12.2 0zM842.2 314.2a6.1 6.1 0 1 0 12.2 0a6.1 6.1 0 1 0 -12.2 0zM813.7 371.4a6.1 6.1 0 1 0 12.2 0a6.1 6.1 0 1 0 -12.2 0zM793.4 439.1a6.1 6.1 0 1 0 12.2 0a6.1 6.1 0 1 0 -12.2 0zM783.3 518.6a6.1 6.1 0 1 0 12.2 0a6.1 6.1 0 1 0 -12.2 0zM774.2 611.6a6.1 6.1 0 1 0 12.2 0a6.1 6.1 0 1 0 -12.2 0zM776.4 719.5a6.1 6.1 0 1 0 12.2 0a6.1 6.1 0 1 0 -12.2 0z" fill="#ff00ff"/>
</g>
<rect x="594.4" y="19.4" width="381.25" height="784.1" fill="none" stroke="#000" stroke-width="1.1"/>
<path d="M642.50 803.5v6.0M719.60 803.5v6.0M796.60 803.5v6.0M874.10 803.5v6.0M951.50 803.5v6.0M594.4 19.40h-6.0M594.4 96.72h-6.0M594.4 174.34h-6.0M594.4 251.96h-6.0M594.4 329.58h-6.0M594.4 407.20h-6.0M594.4 484.82h-6.0M594.4 562.44h-6.0M594.4 640.06h-6.0M594.4 717.68h-6.0M594.4 795.30h-6.0" stroke="#000" stroke-width="1.1" fill="none"/>
<text y="829.80" font-size="17.59" x="631.89" textLength="21.21" lengthAdjust="spacingAndGlyphs">33</text>
<text y="829.80" font-size="17.59" x="708.99" textLength="21.21" lengthAdjust="spacingAndGlyphs">34</text>
<text y="829.80" font-size="17.59" x="785.99" textLength="21.21" lengthAdjust="spacingAndGlyphs">35</text>
<text y="829.80" font-size="17.59" x="863.49" textLength="21.21" lengthAdjust="spacingAndGlyphs">36</text>
<text y="829.80" font-size="17.59" x="940.89" textLength="21.21" lengthAdjust="spacingAndGlyphs">37</text>
</g>
<g id="axes3">
<clipPath id="clip2"><rect x="1089.5" y="19.4" width="382.0999999999999" height="784.1"/></clipPath>
<path d="M1105.5 19.4V803.5M1163.5 19.4V803.5M1220.5 19.4V803.5M1278.5 19.4V803.5M1336.5 19.4V803.5M1394.5 19.4V803.5M1451.5 19.4V803.5M1089.5 96.5H1471.6M1089.5 174.5H1471.6M1089.5 251.5H1471.6M1089.5 329.5H1471.6M1089.5 407.5H1471.6M1089.5 484.5H1471.6M1089.5 562.5H1471.6M1089.5 640.5H1471.6M1089.5 717.5H1471.6M1089.5 795.5H1471.6" stroke="#9c9c9c" stroke-width="0.8" stroke-dasharray="3.0 1.5" fill="none"/>
<g clip-path="url(#clip2)">
<path d="M1116.3 19.0L1116.3 30.0L1121.0 35.0L1128.0 39.5L1138.4 43.5L1149.3 47.0L1160.8 51.3L1174.0 55.5L1186.0 59.0L1196.0 61.5L1205.0 65.5L1212.5 70.0L1219.5 76.0L1224.0 82.0L1226.1 90.6L1235.8 105.2L1245.5 119.7L1257.6 134.2L1269.7 146.3L1281.8 154.7L1293.9 163.2L1303.5 175.3L1310.8 186.2L1315.6 197.1L1325.3 225.4L1337.4 266.1L1350.6 314.1L1364.5 371.3L1379.8 439.0L1397.7 518.4L1405.7 562.0" stroke="#00ffff" stroke-width="13.8" fill="none" stroke-linejoin="round" stroke-linecap="butt"/>
<path d="M1112.5 19.0L1112.5 28.0" stroke="#00ffff" stroke-width="5" fill="none" stroke-linejoin="round" stroke-linecap="round"/>
<path d="M1133.4 47.5L1145.5 52.5L1160.6 57.5L1172.7 62.3L1184.8 66.5" stroke="#00ffff" stroke-width="6" fill="none" stroke-linejoin="round" stroke-linecap="round"/>
<path d="M1190.9 57.0L1203.0 59.5L1213.0 65.0L1222.0 73.0" stroke="#00ffff" stroke-width="6" fill="none" stroke-linejoin="round" stroke-linecap="round"/>
<path d="M1119.6 19.8L1119.8 21.3L1120.0 22.9L1120.2 24.4L1120.4 26.0L1120.6 27.6L1120.8 29.1L1121.1 31.4L1121.6 35.3L1124.6 43.0L1137.2 47.5L1148.2 51.4L1159.1 55.2L1169.0 59.0L1177.5 62.7L1190.0 70.2L1200.2 77.7L1209.5 85.3L1218.7 93.2L1229.6 100.9L1252.2 120.0L1267.7 138.8L1297.2 175.8L1318.3 214.2L1329.9 252.7L1340.3 291.5L1350.3 330.2L1369.3 407.8L1386.8 485.4L1400.6 563.6L1418.0 641.3L1435.1 718.8L1450.6 796.4L1461.4 794.2L1445.9 716.5L1428.8 638.9L1411.4 561.3L1392.2 484.2L1374.7 406.6L1355.7 328.9L1345.7 290.1L1335.1 251.2L1323.3 212.1L1301.8 172.9L1276.3 132.3L1259.8 112.3L1236.4 92.5L1225.3 84.7L1216.5 77.1L1206.8 69.2L1196.0 61.2L1182.5 53.1L1173.0 49.0L1162.9 45.1L1151.8 41.2L1140.8 37.3L1130.4 34.0L1132.4 33.9L1131.9 30.1L1131.6 27.7L1131.4 26.2L1131.2 24.6L1131.0 23.1L1130.8 21.5L1130.6 20.0L1130.4 18.4Z" fill="#ff0000"/>
<path d="M1116.3 19.0L1116.3 30.0L1121.0 35.0L1128.0 39.5L1138.4 43.5L1149.3 47.0L1160.8 51.3L1174.0 55.5L1186.0 59.0L1196.0 61.5L1205.0 65.5L1212.5 70.0L1219.5 76.0L1224.0 82.0L1226.1 90.6L1235.8 105.2L1245.5 119.7L1257.6 134.2L1269.7 146.3L1281.8 154.7L1293.9 163.2L1303.5 175.3L1310.8 186.2L1315.6 197.1L1325.3 225.4L1337.4 266.1L1350.6 314.1L1364.5 371.3L1379.8 439.0L1397.7 518.4L1405.7 562.0" stroke="#0000ff" stroke-width="2.8" fill="none" stroke-linejoin="round"/>
<path d="M1110.1 19.0a6.199999999999999 6.199999999999999 0 1 0 12.399999999999999 0a6.199999999999999 6.199999999999999 0 1 0 -12.399999999999999 0zM1110.1 22.9a6.199999999999999 6.199999999999999 0 1 0 12.399999999999999 0a6.199999999999999 6.199999999999999 0 1 0 -12.399999999999999 0zM1110.1 26.8a6.199999999999999 6.199999999999999 0 1 0 12.399999999999999 0a6.199999999999999 6.199999999999999 0 1 0 -12.399999999999999 0zM1110.8 30.7a6.199999999999999 6.199999999999999 0 1 0 12.399999999999999 0a6.199999999999999 6.199999999999999 0 1 0 -12.399999999999999 0zM1114.4 34.6a6.199999999999999 6.199999999999999 0 1 0 12.399999999999999 0a6.199999999999999 6.199999999999999 0 1 0 -12.399999999999999 0zM1120.2 38.5a6.199999999999999 6.199999999999999 0 1 0 12.399999999999999 0a6.199999999999999 6.199999999999999 0 1 0 -12.399999999999999 0zM1129.3 42.4a6.199999999999999 6.199999999999999 0 1 0 12.399999999999999 0a6.199999999999999 6.199999999999999 0 1 0 -12.399999999999999 0zM1140.9 46.3a6.199999999999999 6.199999999999999 0 1 0 12.399999999999999 0a6.199999999999999 6.199999999999999 0 1 0 -12.399999999999999 0zM1151.7 50.2a6.199999999999999 6.199999999999999 0 1 0 12.399999999999999 0a6.199999999999999 6.199999999999999 0 1 0 -12.399999999999999 0zM1163.4 54.1a6.199999999999999 6.199999999999999 0 1 0 12.399999999999999 0a6.199999999999999 6.199999999999999 0 1 0 -12.399999999999999 0zM1176.4 58.0a6.199999999999999 6.199999999999999 0 1 0 12.399999999999999 0a6.199999999999999 6.199999999999999 0 1 0 -12.399999999999999 0zM1190.7 61.9a6.199999999999999 6.199999999999999 0 1 0 12.399999999999999 0a6.199999999999999 6.199999999999999 0 1 0 -12.399999999999999 0zM1199.3 65.8a6.199999999999999 6.199999999999999 0 1 0 12.399999999999999 0a6.199999999999999 6.199999999999999 0 1 0 -12.399999999999999 0zM1205.8 69.7a6.199999999999999 6.199999999999999 0 1 0 12.399999999999999 0a6.199999999999999 6.199999999999999 0 1 0 -12.399999999999999 0zM1210.5 73.6a6.199999999999999 6.199999999999999 0 1 0 12.399999999999999 0a6.199999999999999 6.199999999999999 0 1 0 -12.399999999999999 0zM1214.4 77.5a6.199999999999999 6.199999999999999 0 1 0 12.399999999999999 0a6.199999999999999 6.199999999999999 0 1 0 -12.399999999999999 0zM1217.3 81.4a6.199999999999999 6.199999999999999 0 1 0 12.399999999999999 0a6.199999999999999 6.199999999999999 0 1 0 -12.399999999999999 0zM1218.6 85.3a6.199999999999999 6.199999999999999 0 1 0 12.399999999999999 0a6.199999999999999 6.199999999999999 0 1 0 -12.399999999999999 0zM1219.6 89.2a6.199999999999999 6.199999999999999 0 1 0 12.399999999999999 0a6.199999999999999 6.199999999999999 0 1 0 -12.399999999999999 0zM1221.6 93.1a6.199999999999999 6.199999999999999 0 1 0 12.399999999999999 0a6.199999999999999 6.199999999999999 0 1 0 -12.399999999999999 0zM1224.2 97.0a6.199999999999999 6.199999999999999 0 1 0 12.399999999999999 0a6.199999999999999 6.199999999999999 0 1 0 -12.399999999999999 0zM1226.7 100.9a6.199999999999999 6.199999999999999 0 1 0 12.399999999999999 0a6.199999999999999 6.199999999999999 0 1 0 -12.399999999999999 0zM1229.3 104.8a6.199999999999999 6.199999999999999 0 1 0 12.399999999999999 0a6.199999999999999 6.199999999999999 0 1 0 -12.399999999999999 0zM1231.9 108.7a6.199999999999999 6.199999999999999 0 1 0 12.399999999999999 0a6.199999999999999 6.199999999999999 0 1 0 -12.399999999999999 0zM1234.6 112.6a6.199999999999999 6.199999999999999 0 1 0 12.399999999999999 0a6.199999999999999 6.199999999999999 0 1 0 -12.399999999999999 0zM1237.2 116.5a6.199999999999999 6.199999999999999 0 1 0 12.399999999999999 0a6.199999999999999 6.199999999999999 0 1 0 -12.399999999999999 0zM1239.9 120.4a6.199999999999999 6.199999999999999 0 1 0 12.399999999999999 0a6.199999999999999 6.199999999999999 0 1 0 -12.399999999999999 0zM1243.1 124.3a6.199999999999999 6.199999999999999 0 1 0 12.399999999999999 0a6.199999999999999 6.199999999999999 0 1 0 -12.399999999999999 0zM1246.4 128.2a6.199999999999999 6.199999999999999 0 1 0 12.399999999999999 0a6.199999999999999 6.199999999999999 0 1 0 -12.399999999999999 0zM1249.6 132.1a6.199999999999999 6.199999999999999 0 1 0 12.399999999999999 0a6.199999999999999 6.199999999999999 0 1 0 -12.399999999999999 0zM1253.2 136.0a6.199999999999999 6.199999999999999 0 1 0 12.399999999999999 0a6.199999999999999 6.199999999999999 0 1 0 -12.399999999999999 0zM1257.1 139.9a6.199999999999999 6.199999999999999 0 1 0 12.399999999999999 0a6.199999999999999 6.199999999999999 0 1 0 -12.399999999999999 0zM1261.0 143.8a6.199999999999999 6.199999999999999 0 1 0 12.399999999999999 0a6.199999999999999 6.199999999999999 0 1 0 -12.399999999999999 0zM1265.5 147.7a6.199999999999999 6.199999999999999 0 1 0 12.399999999999999 0a6.199999999999999 6.199999999999999 0 1 0 -12.399999999999999 0zM1271.1 151.6a6.199999999999999 6.199999999999999 0 1 0 12.399999999999999 0a6.199999999999999 6.199999999999999 0 1 0 -12.399999999999999 0zM1276.7 155.5a6.199999999999999 6.199999999999999 0 1 0 12.399999999999999 0a6.199999999999999 6.199999999999999 0 1 0 -12.399999999999999 0zM1282.3 159.4a6.199999999999999 6.199999999999999 0 1 0 12.399999999999999 0a6.199999999999999 6.199999999999999 0 1 0 -12.399999999999999 0zM1287.8 163.3a6.199999999999999 6.199999999999999 0 1 0 12.399999999999999 0a6.199999999999999 6.199999999999999 0 1 0 -12.399999999999999 0zM1290.9 167.2a6.199999999999999 6.199999999999999 0 1 0 12.399999999999999 0a6.199999999999999 6.199999999999999 0 1 0 -12.399999999999999 0zM1294.0 171.1a6.199999999999999 6.199999999999999 0 1 0 12.399999999999999 0a6.199999999999999 6.199999999999999 0 1 0 -12.399999999999999 0zM1297.1 175.0a6.199999999999999 6.199999999999999 0 1 0 12.399999999999999 0a6.199999999999999 6.199999999999999 0 1 0 -12.399999999999999 0zM1299.7 178.9a6.199999999999999 6.199999999999999 0 1 0 12.399999999999999 0a6.199999999999999 6.199999999999999 0 1 0 -12.399999999999999 0zM1302.3 182.8a6.199999999999999 6.199999999999999 0 1 0 12.399999999999999 0a6.199999999999999 6.199999999999999 0 1 0 -12.399999999999999 0zM1304.8 186.7a6.199999999999999 6.199999999999999 0 1 0 12.399999999999999 0a6.199999999999999 6.199999999999999 0 1 0 -12.399999999999999 0zM1306.5 190.6a6.199999999999999 6.199999999999999 0 1 0 12.399999999999999 0a6.199999999999999 6.199999999999999 0 1 0 -12.399999999999999 0zM1308.3 194.5a6.199999999999999 6.199999999999999 0 1 0 12.399999999999999 0a6.199999999999999 6.199999999999999 0 1 0 -12.399999999999999 0zM1309.8 198.4a6.199999999999999 6.199999999999999 0 1 0 12.399999999999999 0a6.199999999999999 6.199999999999999 0 1 0 -12.399999999999999 0zM1311.2 202.3a6.199999999999999 6.199999999999999 0 1 0 12.399999999999999 0a6.199999999999999 6.199999999999999 0 1 0 -12.399999999999999 0zM1312.5 206.2a6.199999999999999 6.199999999999999 0 1 0 12.399999999999999 0a6.199999999999999 6.199999999999999 0 1 0 -12.399999999999999 0zM1313.9 210.1a6.199999999999999 6.199999999999999 0 1 0 12.399999999999999 0a6.199999999999999 6.199999999999999 0 1 0 -12.399999999999999 0zM1315.2 214.0a6.199999999999999 6.199999999999999 0 1 0 12.399999999999999 0a6.199999999999999 6.199999999999999 0 1 0 -12.399999999999999 0zM1316.5 217.9a6.199999999999999 6.199999999999999 0 1 0 12.399999999999999 0a6.199999999999999 6.199999999999999 0 1 0 -12.399999999999999 0zM1317.9 221.8a6.199999999999999 6.199999999999999 0 1 0 12.399999999999999 0a6.199999999999999 6.199999999999999 0 1 0 -12.399999999999999 0zM1319.2 225.7a6.199999999999999 6.199999999999999 0 1 0 12.399999999999999 0a6.199999999999999 6.199999999999999 0 1 0 -12.399999999999999 0zM1320.3 229.6a6.199999999999999 6.199999999999999 0 1 0 12.399999999999999 0a6.199999999999999 6.199999999999999 0 1 0 -12.399999999999999 0zM1321.5 233.5a6.199999999999999 6.199999999999999 0 1 0 12.399999999999999 0a6.199999999999999 6.199999999999999 0 1 0 -12.399999999999999 0zM1322.7 237.4a6.199999999999999 6.199999999999999 0 1 0 12.399999999999999 0a6.199999999999999 6.199999999999999 0 1 0 -12.399999999999999 0zM1323.8 241.3a6.199999999999999 6.199999999999999 0 1 0 12.399999999999999 0a6.199999999999999 6.199999999999999 0 1 0 -12.399999999999999 0zM1325.0 245.2a6.199999999999999 6.199999999999999 0 1 0 12.399999999999999 0a6.199999999999999 6.199999999999999 0 1 0 -12.399999999999999 0zM1326.1 249.1a6.199999999999999 6.199999999999999 0 1 0 12.399999999999999 0a6.199999999999999 6.199999999999999 0 1 0 -12.399999999999999 0zM1327.3 253.0a6.199999999999999 6.199999999999999 0 1 0 12.399999999999999 0a6.199999999999999 6.199999999999999 0 1 0 -12.399999999999999 0zM1328.5 256.9a6.199999999999999 6.199999999999999 0 1 0 12.399999999999999 0a6.199999999999999 6.199999999999999 0 1 0 -12.399999999999999 0zM1329.6 260.8a6.199999999999999 6.199999999999999 0 1 0 12.399999999999999 0a6.199999999999999 6.199999999999999 0 1 0 -12.399999999999999 0zM1330.8 264.7a6.199999999999999 6.199999999999999 0 1 0 12.399999999999999 0a6.199999999999999 6.199999999999999 0 1 0 -12.399999999999999 0zM1331.9 268.6a6.199999999999999 6.199999999999999 0 1 0 12.399999999999999 0a6.199999999999999 6.199999999999999 0 1 0 -12.399999999999999 0zM1333.0 272.5a6.199999999999999 6.199999999999999 0 1 0 12.399999999999999 0a6.199999999999999 6.199999999999999 0 1 0 -12.399999999999999 0zM1334.0 276.4a6.199999999999999 6.199999999999999 0 1 0 12.399999999999999 0a6.199999999999999 6.199999999999999 0 1 0 -12.399999999999999 0zM1335.1 280.3a6.199999999999999 6.199999999999999 0 1 0 12.399999999999999 0a6.199999999999999 6.199999999999999 0 1 0 -12.399999999999999 0zM1336.2 284.2a6.199999999999999 6.199999999999999 0 1 0 12.399999999999999 0a6.199999999999999 6.199999999999999 0 1 0 -12.399999999999999 0zM1337.2 288.1a6.199999999999999 6.199999999999999 0 1 0 12.399999999999999 0a6.199999999999999 6.199999999999999 0 1 0 -12.399999999999999 0zM1338.3 292.0a6.199999999999999 6.199999999999999 0 1 0 12.399999999999999 0a6.199999999999999 6.199999999999999 0 1 0 -12.399999999999999 0zM1339.4 295.9a6.199999999999999 6.199999999999999 0 1 0 12.399999999999999 0a6.199999999999999 6.199999999999999 0 1 0 -12.399999999999999 0zM1340.5 299.8a6.199999999999999 6.199999999999999 0 1 0 12.399999999999999 0a6.199999999999999 6.199999999999999 0 1 0 -12.399999999999999 0zM1341.5 303.7a6.199999999999999 6.199999999999999 0 1 0 12.399999999999999 0a6.199999999999999 6.199999999999999 0 1 0 -12.399999999999999 0zM1342.6 307.6a6.199999999999999 6.199999999999999 0 1 0 12.399999999999999 0a6.199999999999999 6.199999999999999 0 1 0 -12.399999999999999 0zM1343.7 311.5a6.199999999999999 6.199999999999999 0 1 0 12.399999999999999 0a6.199999999999999 6.199999999999999 0 1 0 -12.399999999999999 0zM1344.7 315.4a6.199999999999999 6.199999999999999 0 1 0 12.399999999999999 0a6.199999999999999 6.199999999999999 0 1 0 -12.399999999999999 0zM1345.7 319.3a6.199999999999999 6.199999999999999 0 1 0 12.399999999999999 0a6.199999999999999 6.199999999999999 0 1 0 -12.399999999999999 0zM1346.6 323.2a6.199999999999999 6.199999999999999 0 1 0 12.399999999999999 0a6.199999999999999 6.199999999999999 0 1 0 -12.399999999999999 0zM1347.6 327.1a6.199999999999999 6.199999999999999 0 1 0 12.399999999999999 0a6.199999999999999 6.199999999999999 0 1 0 -12.399999999999999 0zM1348.5 331.0a6.199999999999999 6.199999999999999 0 1 0 12.399999999999999 0a6.199999999999999 6.199999999999999 0 1 0 -12.399999999999999 0zM1349.5 334.9a6.199999999999999 6.199999999999999 0 1 0 12.399999999999999 0a6.199999999999999 6.199999999999999 0 1 0 -12.399999999999999 0zM1350.4 338.8a6.199999999999999 6.199999999999999 0 1 0 12.399999999999999 0a6.199999999999999 6.199999999999999 0 1 0 -12.399999999999999 0zM1351.3 342.7a6.199999999999999 6.199999999999999 0 1 0 12.399999999999999 0a6.199999999999999 6.199999999999999 0 1 0 -12.399999999999999 0zM1352.3 346.6a6.199999999999999 6.199999999999999 0 1 0 12.399999999999999 0a6.199999999999999 6.199999999999999 0 1 0 -12.399999999999999 0zM1353.2 350.5a6.199999999999999 6.199999999999999 0 1 0 12.399999999999999 0a6.199999999999999 6.199999999999999 0 1 0 -12.399999999999999 0zM1354.2 354.4a6.199999999999999 6.199999999999999 0 1 0 12.399999999999999 0a6.199999999999999 6.199999999999999 0 1 0 -12.399999999999999 0zM1355.1 358.3a6.199999999999999 6.199999999999999 0 1 0 12.399999999999999 0a6.199999999999999 6.199999999999999 0 1 0 -12.399999999999999 0zM1356.1 362.2a6.199999999999999 6.199999999999999 0 1 0 12.399999999999999 0a6.199999999999999 6.199999999999999 0 1 0 -12.399999999999999 0zM1357.0 366.1a6.199999999999999 6.199999999999999 0 1 0 12.399999999999999 0a6.199999999999999 6.199999999999999 0 1 0 -12.399999999999999 0zM1358.0 370.0a6.199999999999999 6.199999999999999 0 1 0 12.399999999999999 0a6.199999999999999 6.199999999999999 0 1 0 -12.399999999999999 0zM1358.9 373.9a6.199999999999999 6.199999999999999 0 1 0 12.399999999999999 0a6.199999999999999 6.199999999999999 0 1 0 -12.399999999999999 0zM1359.8 377.8a6.199999999999999 6.199999999999999 0 1 0 12.399999999999999 0a6.199999999999999 6.199999999999999 0 1 0 -12.399999999999999 0zM1360.7 381.7a6.199999999999999 6.199999999999999 0 1 0 12.399999999999999 0a6.199999999999999 6.199999999999999 0 1 0 -12.399999999999999 0zM1361.5 385.6a6.199999999999999 6.199999999999999 0 1 0 12.399999999999999 0a6.199999999999999 6.199999999999999 0 1 0 -12.399999999999999 0zM1362.4 389.5a6.199999999999999 6.199999999999999 0 1 0 12.399999999999999 0a6.199999999999999 6.199999999999999 0 1 0 -12.399999999999999 0zM1363.3 393.4a6.199999999999999 6.199999999999999 0 1 0 12.399999999999999 0a6.199999999999999 6.199999999999999 0 1 0 -12.399999999999999 0zM1364.2 397.3a6.199999999999999 6.199999999999999 0 1 0 12.399999999999999 0a6.199999999999999 6.199999999999999 0 1 0 -12.399999999999999 0zM1365.1 401.2a6.199999999999999 6.199999999999999 0 1 0 12.399999999999999 0a6.199999999999999 6.199999999999999 0 1 0 -12.399999999999999 0zM1365.9 405.1a6.199999999999999 6.199999999999999 0 1 0 12.399999999999999 0a6.199999999999999 6.199999999999999 0 1 0 -12.399999999999999 0zM1366.8 409.0a6.199999999999999 6.199999999999999 0 1 0 12.399999999999999 0a6.199999999999999 6.199999999999999 0 1 0 -12.399999999999999 0zM1367.7 412.9a6.199999999999999 6.199999999999999 0 1 0 12.399999999999999 0a6.199999999999999 6.199999999999999 0 1 0 -12.399999999999999 0zM1368.6 416.8a6.199999999999999 6.199999999999999 0 1 0 12.399999999999999 0a6.199999999999999 6.199999999999999 0 1 0 -12.399999999999999 0zM1369.5 420.7a6.199999999999999 6.199999999999999 0 1 0 12.399999999999999 0a6.199999999999999 6.199999999999999 0 1 0 -12.399999999999999 0zM1370.3 424.6a6.199999999999999 6.199999999999999 0 1 0 12.399999999999999 0a6.199999999999999 6.199999999999999 0 1 0 -12.399999999999999 0zM1371.2 428.5a6.199999999999999 6.199999999999999 0 1 0 12.399999999999999 0a6.199999999999999 6.199999999999999 0 1 0 -12.399999999999999 0zM1372.1 432.4a6.199999999999999 6.199999999999999 0 1 0 12.399999999999999 0a6.199999999999999 6.199999999999999 0 1 0 -12.399999999999999 0zM1373.0 436.3a6.199999999999999 6.199999999999999 0 1 0 12.399999999999999 0a6.199999999999999 6.199999999999999 0 1 0 -12.399999999999999 0zM1373.9 440.2a6.199999999999999 6.199999999999999 0 1 0 12.399999999999999 0a6.199999999999999 6.199999999999999 0 1 0 -12.399999999999999 0zM1374.7 444.1a6.199999999999999 6.199999999999999 0 1 0 12.399999999999999 0a6.199999999999999 6.199999999999999 0 1 0 -12.399999999999999 0zM1375.6 448.0a6.199999999999999 6.199999999999999 0 1 0 12.399999999999999 0a6.199999999999999 6.199999999999999 0 1 0 -12.399999999999999 0zM1376.5 451.9a6.199999999999999 6.199999999999999 0 1 0 12.399999999999999 0a6.199999999999999 6.199999999999999 0 1 0 -12.399999999999999 0zM1377.4 455.8a6.199999999999999 6.199999999999999 0 1 0 12.399999999999999 0a6.199999999999999 6.199999999999999 0 1 0 -12.399999999999999 0zM1378.3 459.7a6.199999999999999 6.199999999999999 0 1 0 12.399999999999999 0a6.199999999999999 6.199999999999999 0 1 0 -12.399999999999999 0zM1379.1 463.6a6.199999999999999 6.199999999999999 0 1 0 12.399999999999999 0a6.199999999999999 6.199999999999999 0 1 0 -12.399999999999999 0zM1380.0 467.5a6.199999999999999 6.199999999999999 0 1 0 12.399999999999999 0a6.199999999999999 6.199999999999999 0 1 0 -12.399999999999999 0zM1380.9 471.4a6.199999999999999 6.199999999999999 0 1 0 12.399999999999999 0a6.199999999999999 6.199999999999999 0 1 0 -12.399999999999999 0zM1381.8 475.3a6.199999999999999 6.199999999999999 0 1 0 12.399999999999999 0a6.199999999999999 6.199999999999999 0 1 0 -12.399999999999999 0zM1382.7 479.2a6.199999999999999 6.199999999999999 0 1 0 12.399999999999999 0a6.199999999999999 6.199999999999999 0 1 0 -12.399999999999999 0zM1383.5 483.1a6.199999999999999 6.199999999999999 0 1 0 12.399999999999999 0a6.199999999999999 6.199999999999999 0 1 0 -12.399999999999999 0zM1384.4 487.0a6.199999999999999 6.199999999999999 0 1 0 12.399999999999999 0a6.199999999999999 6.199999999999999 0 1 0 -12.399999999999999 0zM1385.3 490.9a6.199999999999999 6.199999999999999 0 1 0 12.399999999999999 0a6.199999999999999 6.199999999999999 0 1 0 -12.399999999999999 0zM1386.2 494.8a6.199999999999999 6.199999999999999 0 1 0 12.399999999999999 0a6.199999999999999 6.199999999999999 0 1 0 -12.399999999999999 0zM1387.1 498.7a6.199999999999999 6.199999999999999 0 1 0 12.399999999999999 0a6.199999999999999 6.199999999999999 0 1 0 -12.399999999999999 0zM1387.9 502.6a6.199999999999999 6.199999999999999 0 1 0 12.399999999999999 0a6.199999999999999 6.199999999999999 0 1 0 -12.399999999999999 0zM1388.8 506.5a6.199999999999999 6.199999999999999 0 1 0 12.399999999999999 0a6.199999999999999 6.199999999999999 0 1 0 -12.399999999999999 0zM1389.7 510.4a6.199999999999999 6.199999999999999 0 1 0 12.399999999999999 0a6.199999999999999 6.199999999999999 0 1 0 -12.399999999999999 0zM1390.6 514.3a6.199999999999999 6.199999999999999 0 1 0 12.399999999999999 0a6.199999999999999 6.199999999999999 0 1 0 -12.399999999999999 0zM1391.5 518.2a6.199999999999999 6.199999999999999 0 1 0 12.399999999999999 0a6.199999999999999 6.199999999999999 0 1 0 -12.399999999999999 0zM1392.2 522.1a6.199999999999999 6.199999999999999 0 1 0 12.399999999999999 0a6.199999999999999 6.199999999999999 0 1 0 -12.399999999999999 0zM1392.9 526.0a6.199999999999999 6.199999999999999 0 1 0 12.399999999999999 0a6.199999999999999 6.199999999999999 0 1 0 -12.399999999999999 0zM1393.6 529.9a6.199999999999999 6.199999999999999 0 1 0 12.399999999999999 0a6.199999999999999 6.199999999999999 0 1 0 -12.399999999999999 0zM1394.3 533.8a6.199999999999999 6.199999999999999 0 1 0 12.399999999999999 0a6.199999999999999 6.199999999999999 0 1 0 -12.399999999999999 0zM1395.0 537.7a6.199999999999999 6.199999999999999 0 1 0 12.399999999999999 0a6.199999999999999 6.199999999999999 0 1 0 -12.399999999999999 0zM1395.8 541.6a6.199999999999999 6.199999999999999 0 1 0 12.399999999999999 0a6.199999999999999 6.199999999999999 0 1 0 -12.399999999999999 0zM1396.5 545.5a6.199999999999999 6.199999999999999 0 1 0 12.399999999999999 0a6.199999999999999 6.199999999999999 0 1 0 -12.399999999999999 0zM1397.2 549.4a6.199999999999999 6.199999999999999 0 1 0 12.399999999999999 0a6.199999999999999 6.199999999999999 0 1 0 -12.399999999999999 0zM1397.9 553.3a6.199999999999999 6.199999999999999 0 1 0 12.399999999999999 0a6.199999999999999 6.199999999999999 0 1 0 -12.399999999999999 0zM1398.6 557.2a6.199999999999999 6.199999999999999 0 1 0 12.399999999999999 0a6.199999999999999 6.199999999999999 0 1 0 -12.399999999999999 0zM1399.3 561.1a6.199999999999999 6.199999999999999 0 1 0 12.399999999999999 0a6.199999999999999 6.199999999999999 0 1 0 -12.399999999999999 0z" fill="#0000ff"/>
<path d="M1125.0 19.1L1125.2 20.7L1125.4 22.2L1125.6 23.8L1125.8 25.3L1126.0 26.9L1126.2 28.4L1126.5 30.7L1127.0 34.6L1127.5 38.5L1139.0 42.4L1150.0 46.3L1161.0 50.1L1171.0 54.0L1180.0 57.9L1193.0 65.7L1203.5 73.4L1213.0 81.2L1222.0 89.0L1233.0 96.7L1256.0 116.1L1272.0 135.5L1299.5 174.3L1320.8 213.2L1332.5 252.0L1343.0 290.8L1353.0 329.6L1372.0 407.2L1389.5 484.8L1406.0 562.4L1423.4 640.1L1440.5 717.7L1456.0 795.3" stroke="#ff0000" stroke-width="3.0" fill="none" stroke-linejoin="round"/><path d="M1118.9 19.1a6.1 6.1 0 1 0 12.2 0a6.1 6.1 0 1 0 -12.2 0zM1119.1 20.7a6.1 6.1 0 1 0 12.2 0a6.1 6.1 0 1 0 -12.2 0zM1119.3 22.2a6.1 6.1 0 1 0 12.2 0a6.1 6.1 0 1 0 -12.2 0zM1119.5 23.8a6.1 6.1 0 1 0 12.2 0a6.1 6.1 0 1 0 -12.2 0zM1119.7 25.3a6.1 6.1 0 1 0 12.2 0a6.1 6.1 0 1 0 -12.2 0zM1119.9 26.9a6.1 6.1 0 1 0 12.2 0a6.1 6.1 0 1 0 -12.2 0zM1120.1 28.4a6.1 6.1 0 1 0 12.2 0a6.1 6.1 0 1 0 -12.2 0zM1120.4 30.7a6.1 6.1 0 1 0 12.2 0a6.1 6.1 0 1 0 -12.2 0zM1120.9 34.6a6.1 6.1 0 1 0 12.2 0a6.1 6.1 0 1 0 -12.2 0zM1121.4 38.5a6.1 6.1 0 1 0 12.2 0a6.1 6.1 0 1 0 -12.2 0zM1132.9 42.4a6.1 6.1 0 1 0 12.2 0a6.1 6.1 0 1 0 -12.2 0zM1143.9 46.3a6.1 6.1 0 1 0 12.2 0a6.1 6.1 0 1 0 -12.2 0zM1154.9 50.1a6.1 6.1 0 1 0 12.2 0a6.1 6.1 0 1 0 -12.2 0zM1164.9 54.0a6.1 6.1 0 1 0 12.2 0a6.1 6.1 0 1 0 -12.2 0zM1173.9 57.9a6.1 6.1 0 1 0 12.2 0a6.1 6.1 0 1 0 -12.2 0zM1186.9 65.7a6.1 6.1 0 1 0 12.2 0a6.1 6.1 0 1 0 -12.2 0zM1197.4 73.4a6.1 6.1 0 1 0 12.2 0a6.1 6.1 0 1 0 -12.2 0zM1206.9 81.2a6.1 6.1 0 1 0 12.2 0a6.1 6.1 0 1 0 -12.2 0zM1215.9 89.0a6.1 6.1 0 1 0 12.2 0a6.1 6.1 0 1 0 -12.2 0zM1226.9 96.7a6.1 6.1 0 1 0 12.2 0a6.1 6.1 0 1 0 -12.2 0zM1249.9 116.1a6.1 6.1 0 1 0 12.2 0a6.1 6.1 0 1 0 -12.2 0zM1265.9 135.5a6.1 6.1 0 1 0 12.2 0a6.1 6.1 0 1 0 -12.2 0zM1293.4 174.3a6.1 6.1 0 1 0 12.2 0a6.1 6.1 0 1 0 -12.2 0zM1314.7 213.2a6.1 6.1 0 1 0 12.2 0a6.1 6.1 0 1 0 -12.2 0zM1326.4 252.0a6.1 6.1 0 1 0 12.2 0a6.1 6.1 0 1 0 -12.2 0zM1336.9 290.8a6.1 6.1 0 1 0 12.2 0a6.1 6.1 0 1 0 -12.2 0zM1346.9 329.6a6.1 6.1 0 1 0 12.2 0a6.1 6.1 0 1 0 -12.2 0zM1365.9 407.2a6.1 6.1 0 1 0 12.2 0a6.1 6.1 0 1 0 -12.2 0zM1383.4 484.8a6.1 6.1 0 1 0 12.2 0a6.1 6.1 0 1 0 -12.2 0zM1399.9 562.4a6.1 6.1 0 1 0 12.2 0a6.1 6.1 0 1 0 -12.2 0zM1417.3 640.1a6.1 6.1 0 1 0 12.2 0a6.1 6.1 0 1 0 -12.2 0zM1434.4 717.7a6.1 6.1 0 1 0 12.2 0a6.1 6.1 0 1 0 -12.2 0zM1449.9 795.3a6.1 6.1 0 1 0 12.2 0a6.1 6.1 0 1 0 -12.2 0z" fill="#ff0000"/>
<path d="M1133.6 19.1L1133.8 20.7L1134.1 22.2L1134.3 23.8L1134.6 25.3L1134.8 26.9L1135.0 28.4L1135.4 30.7L1136.0 34.6L1136.6 38.5L1143.5 42.4L1154.0 46.3L1167.5 50.1L1176.5 54.0L1184.5 57.9L1197.5 65.7L1210.7 73.4L1223.0 81.2L1230.5 89.0L1237.5 96.7L1248.0 116.1L1264.4 135.5L1302.2 174.3L1322.3 213.2L1333.7 252.0L1344.0 290.8L1353.8 329.6L1372.8 407.2L1389.9 484.8L1406.4 562.4L1423.4 640.1L1440.8 717.7L1456.4 795.3" stroke="#008000" stroke-width="2.8" fill="none" stroke-linejoin="round"/><path d="M1127.5 19.1a6.1 6.1 0 1 0 12.2 0a6.1 6.1 0 1 0 -12.2 0zM1127.7 20.7a6.1 6.1 0 1 0 12.2 0a6.1 6.1 0 1 0 -12.2 0zM1128.0 22.2a6.1 6.1 0 1 0 12.2 0a6.1 6.1 0 1 0 -12.2 0zM1128.2 23.8a6.1 6.1 0 1 0 12.2 0a6.1 6.1 0 1 0 -12.2 0zM1128.5 25.3a6.1 6.1 0 1 0 12.2 0a6.1 6.1 0 1 0 -12.2 0zM1128.7 26.9a6.1 6.1 0 1 0 12.2 0a6.1 6.1 0 1 0 -12.2 0zM1128.9 28.4a6.1 6.1 0 1 0 12.2 0a6.1 6.1 0 1 0 -12.2 0zM1129.3 30.7a6.1 6.1 0 1 0 12.2 0a6.1 6.1 0 1 0 -12.2 0zM1129.9 34.6a6.1 6.1 0 1 0 12.2 0a6.1 6.1 0 1 0 -12.2 0zM1130.5 38.5a6.1 6.1 0 1 0 12.2 0a6.1 6.1 0 1 0 -12.2 0zM1137.4 42.4a6.1 6.1 0 1 0 12.2 0a6.1 6.1 0 1 0 -12.2 0zM1147.9 46.3a6.1 6.1 0 1 0 12.2 0a6.1 6.1 0 1 0 -12.2 0zM1161.4 50.1a6.1 6.1 0 1 0 12.2 0a6.1 6.1 0 1 0 -12.2 0zM1170.4 54.0a6.1 6.1 0 1 0 12.2 0a6.1 6.1 0 1 0 -12.2 0zM1178.4 57.9a6.1 6.1 0 1 0 12.2 0a6.1 6.1 0 1 0 -12.2 0zM1191.4 65.7a6.1 6.1 0 1 0 12.2 0a6.1 6.1 0 1 0 -12.2 0zM1204.6 73.4a6.1 6.1 0 1 0 12.2 0a6.1 6.1 0 1 0 -12.2 0zM1216.9 81.2a6.1 6.1 0 1 0 12.2 0a6.1 6.1 0 1 0 -12.2 0zM1224.4 89.0a6.1 6.1 0 1 0 12.2 0a6.1 6.1 0 1 0 -12.2 0zM1231.4 96.7a6.1 6.1 0 1 0 12.2 0a6.1 6.1 0 1 0 -12.2 0zM1241.9 116.1a6.1 6.1 0 1 0 12.2 0a6.1 6.1 0 1 0 -12.2 0zM1258.3 135.5a6.1 6.1 0 1 0 12.2 0a6.1 6.1 0 1 0 -12.2 0zM1296.1 174.3a6.1 6.1 0 1 0 12.2 0a6.1 6.1 0 1 0 -12.2 0zM1316.2 213.2a6.1 6.1 0 1 0 12.2 0a6.1 6.1 0 1 0 -12.2 0zM1327.6 252.0a6.1 6.1 0 1 0 12.2 0a6.1 6.1 0 1 0 -12.2 0zM1337.9 290.8a6.1 6.1 0 1 0 12.2 0a6.1 6.1 0 1 0 -12.2 0zM1347.7 329.6a6.1 6.1 0 1 0 12.2 0a6.1 6.1 0 1 0 -12.2 0zM1366.7 407.2a6.1 6.1 0 1 0 12.2 0a6.1 6.1 0 1 0 -12.2 0zM1383.8 484.8a6.1 6.1 0 1 0 12.2 0a6.1 6.1 0 1 0 -12.2 0zM1400.3 562.4a6.1 6.1 0 1 0 12.2 0a6.1 6.1 0 1 0 -12.2 0zM1417.3 640.1a6.1 6.1 0 1 0 12.2 0a6.1 6.1 0 1 0 -12.2 0zM1434.7 717.7a6.1 6.1 0 1 0 12.2 0a6.1 6.1 0 1 0 -12.2 0zM1450.3 795.3a6.1 6.1 0 1 0 12.2 0a6.1 6.1 0 1 0 -12.2 0z" fill="#008000"/>
<path d="M1104.7 19.5L1104.7 20.3L1104.7 21.2L1104.7 22.1L1104.7 23.0L1104.7 24.1L1104.7 25.3L1104.7 26.5L1104.7 28.0L1105.3 29.6L1106.8 31.4L1112.3 33.5L1120.5 35.9L1128.2 38.7L1136.7 42.0L1146.0 45.8L1155.5 50.4L1168.8 55.9L1183.3 62.4L1198.4 70.2L1213.5 79.5L1228.4 90.8L1242.4 104.3L1260.3 120.5L1280.4 140.1L1299.5 163.6L1313.4 191.8L1325.3 225.6L1337.4 266.0L1350.6 314.2L1364.5 371.4L1379.8 439.1L1397.7 518.6L1416.5 611.6L1440.8 719.5" stroke="#ff00ff" stroke-width="3.0" fill="none" stroke-linejoin="round"/><path d="M1098.6 19.5a6.1 6.1 0 1 0 12.2 0a6.1 6.1 0 1 0 -12.2 0zM1098.6 20.3a6.1 6.1 0 1 0 12.2 0a6.1 6.1 0 1 0 -12.2 0zM1098.6 21.2a6.1 6.1 0 1 0 12.2 0a6.1 6.1 0 1 0 -12.2 0zM1098.6 22.1a6.1 6.1 0 1 0 12.2 0a6.1 6.1 0 1 0 -12.2 0zM1098.6 23.0a6.1 6.1 0 1 0 12.2 0a6.1 6.1 0 1 0 -12.2 0zM1098.6 24.1a6.1 6.1 0 1 0 12.2 0a6.1 6.1 0 1 0 -12.2 0zM1098.6 25.3a6.1 6.1 0 1 0 12.2 0a6.1 6.1 0 1 0 -12.2 0zM1098.6 26.5a6.1 6.1 0 1 0 12.2 0a6.1 6.1 0 1 0 -12.2 0zM1098.6 28.0a6.1 6.1 0 1 0 12.2 0a6.1 6.1 0 1 0 -12.2 0zM1099.2 29.6a6.1 6.1 0 1 0 12.2 0a6.1 6.1 0 1 0 -12.2 0zM1100.7 31.4a6.1 6.1 0 1 0 12.2 0a6.1 6.1 0 1 0 -12.2 0zM1106.2 33.5a6.1 6.1 0 1 0 12.2 0a6.1 6.1 0 1 0 -12.2 0zM1114.4 35.9a6.1 6.1 0 1 0 12.2 0a6.1 6.1 0 1 0 -12.2 0zM1122.1 38.7a6.1 6.1 0 1 0 12.2 0a6.1 6.1 0 1 0 -12.2 0zM1130.6 42.0a6.1 6.1 0 1 0 12.2 0a6.1 6.1 0 1 0 -12.2 0zM1139.9 45.8a6.1 6.1 0 1 0 12.2 0a6.1 6.1 0 1 0 -12.2 0zM1149.4 50.4a6.1 6.1 0 1 0 12.2 0a6.1 6.1 0 1 0 -12.2 0zM1162.7 55.9a6.1 6.1 0 1 0 12.2 0a6.1 6.1 0 1 0 -12.2 0zM1177.2 62.4a6.1 6.1 0 1 0 12.2 0a6.1 6.1 0 1 0 -12.2 0zM1192.3 70.2a6.1 6.1 0 1 0 12.2 0a6.1 6.1 0 1 0 -12.2 0zM1207.4 79.5a6.1 6.1 0 1 0 12.2 0a6.1 6.1 0 1 0 -12.2 0zM1222.3 90.8a6.1 6.1 0 1 0 12.2 0a6.1 6.1 0 1 0 -12.2 0zM1236.3 104.3a6.1 6.1 0 1 0 12.2 0a6.1 6.1 0 1 0 -12.2 0zM1254.2 120.5a6.1 6.1 0 1 0 12.2 0a6.1 6.1 0 1 0 -12.2 0zM1274.3 140.1a6.1 6.1 0 1 0 12.2 0a6.1 6.1 0 1 0 -12.2 0zM1293.4 163.6a6.1 6.1 0 1 0 12.2 0a6.1 6.1 0 1 0 -12.2 0zM1307.3 191.8a6.1 6.1 0 1 0 12.2 0a6.1 6.1 0 1 0 -12.2 0zM1319.2 225.6a6.1 6.1 0 1 0 12.2 0a6.1 6.1 0 1 0 -12.2 0zM1331.3 266.0a6.1 6.1 0 1 0 12.2 0a6.1 6.1 0 1 0 -12.2 0zM1344.5 314.2a6.1 6.1 0 1 0 12.2 0a6.1 6.1 0 1 0 -12.2 0zM1358.4 371.4a6.1 6.1 0 1 0 12.2 0a6.1 6.1 0 1 0 -12.2 0zM1373.7 439.1a6.1 6.1 0 1 0 12.2 0a6.1 6.1 0 1 0 -12.2 0zM1391.6 518.6a6.1 6.1 0 1 0 12.2 0a6.1 6.1 0 1 0 -12.2 0zM1410.4 611.6a6.1 6.1 0 1 0 12.2 0a6.1 6.1 0 1 0 -12.2 0zM1434.7 719.5a6.1 6.1 0 1 0 12.2 0a6.1 6.1 0 1 0 -12.2 0z" fill="#ff00ff"/>
</g>
<rect x="1089.5" y="19.4" width="382.0999999999999" height="784.1" fill="none" stroke="#000" stroke-width="1.1"/>
<path d="M1105.50 803.5v6.0M1163.30 803.5v6.0M1220.70 803.5v6.0M1278.50 803.5v6.0M1336.30 803.5v6.0M1394.20 803.5v6.0M1451.90 803.5v6.0M1089.5 19.40h-6.0M1089.5 96.72h-6.0M1089.5 174.34h-6.0M1089.5 251.96h-6.0M1089.5 329.58h-6.0M1089.5 407.20h-6.0M1089.5 484.82h-6.0M1089.5 562.44h-6.0M1089.5 640.06h-6.0M1089.5 717.68h-6.0M1089.5 795.30h-6.0" stroke="#000" stroke-width="1.1" fill="none"/>
<g transform="translate(1093.40 857.00) rotate(-45)"><text y="0.00" font-size="17.59" x="0.00" textLength="42.43" lengthAdjust="spacingAndGlyphs">1020</text></g>
<g transform="translate(1151.20 857.00) rotate(-45)"><text y="0.00" font-size="17.59" x="0.00" textLength="42.43" lengthAdjust="spacingAndGlyphs">1022</text></g>
<g transform="translate(1208.60 857.00) rotate(-45)"><text y="0.00" font-size="17.59" x="0.00" textLength="42.43" lengthAdjust="spacingAndGlyphs">1024</text></g>
<g transform="translate(1266.40 857.00) rotate(-45)"><text y="0.00" font-size="17.59" x="0.00" textLength="42.43" lengthAdjust="spacingAndGlyphs">1026</text></g>
<g transform="translate(1324.20 857.00) rotate(-45)"><text y="0.00" font-size="17.59" x="0.00" textLength="42.43" lengthAdjust="spacingAndGlyphs">1028</text></g>
<g transform="translate(1382.10 857.00) rotate(-45)"><text y="0.00" font-size="17.59" x="0.00" textLength="42.43" lengthAdjust="spacingAndGlyphs">1030</text></g>
<g transform="translate(1439.80 857.00) rotate(-45)"><text y="0.00" font-size="17.59" x="0.00" textLength="42.43" lengthAdjust="spacingAndGlyphs">1032</text></g>
</g>
<text y="25.80" font-size="17.59" x="75.99" textLength="10.61" lengthAdjust="spacingAndGlyphs">0</text>
<text y="103.12" font-size="17.59" x="54.78" textLength="31.82" lengthAdjust="spacingAndGlyphs">100</text>
<text y="180.74" font-size="17.59" x="54.78" textLength="31.82" lengthAdjust="spacingAndGlyphs">200</text>
<text y="258.36" font-size="17.59" x="54.78" textLength="31.82" lengthAdjust="spacingAndGlyphs">300</text>
<text y="335.98" font-size="17.59" x="54.78" textLength="31.82" lengthAdjust="spacingAndGlyphs">400</text>
<text y="413.60" font-size="17.59" x="54.78" textLength="31.82" lengthAdjust="spacingAndGlyphs">500</text>
<text y="491.22" font-size="17.59" x="54.78" textLength="31.82" lengthAdjust="spacingAndGlyphs">600</text>
<text y="568.84" font-size="17.59" x="54.78" textLength="31.82" lengthAdjust="spacingAndGlyphs">700</text>
<text y="646.46" font-size="17.59" x="54.78" textLength="31.82" lengthAdjust="spacingAndGlyphs">800</text>
<text y="724.08" font-size="17.59" x="54.78" textLength="31.82" lengthAdjust="spacingAndGlyphs">900</text>
<text y="801.70" font-size="17.59" x="44.17" textLength="42.43" lengthAdjust="spacingAndGlyphs">1000</text>
<g transform="translate(28.6 411.4) rotate(-90)"><text y="0.00" font-size="23.44" font-weight="bold"><tspan x="-63.53" textLength="75.86" lengthAdjust="spacingAndGlyphs">Depth</tspan> <tspan x="20.07" textLength="43.46" lengthAdjust="spacingAndGlyphs">(m)</tspan></text></g>
<text y="859.60" font-size="23.44" font-weight="bold"><tspan x="180.70" textLength="161.75" lengthAdjust="spacingAndGlyphs">Temperature</tspan> <tspan x="350.28" textLength="10.28" lengthAdjust="spacingAndGlyphs">(</tspan></text>
<text y="851.00" font-size="16.41" font-style="italic" x="363.40" textLength="9.52" lengthAdjust="spacingAndGlyphs">o</text>
<text y="859.60" font-size="23.44" font-style="italic" x="375.00" textLength="15.52" lengthAdjust="spacingAndGlyphs">C</text>
<text y="859.60" font-size="23.44" font-weight="bold" x="390.60" textLength="10.16" lengthAdjust="spacingAndGlyphs">)</text>
<text y="859.00" font-size="23.44" font-weight="bold" x="738.09" textLength="93.83" lengthAdjust="spacingAndGlyphs">Salinity</text>
<text y="885.20" font-size="23.44" font-weight="bold"><tspan x="1173.76" textLength="96.24" lengthAdjust="spacingAndGlyphs">Density</tspan> <tspan x="1277.81" textLength="41.25" lengthAdjust="spacingAndGlyphs">(kg</tspan> <tspan x="1326.87" textLength="58.57" lengthAdjust="spacingAndGlyphs">m-3)</tspan></text>
<text y="918.10" font-size="18.24" font-style="italic"><tspan x="321.40" textLength="55.31" lengthAdjust="spacingAndGlyphs">Ocean</tspan> <tspan x="382.20" textLength="41.01" lengthAdjust="spacingAndGlyphs">Heat</tspan> <tspan x="428.71" textLength="68.77" lengthAdjust="spacingAndGlyphs">Content</tspan> <tspan x="502.98" textLength="86.27" lengthAdjust="spacingAndGlyphs">(kJ/cm^2)</tspan> <tspan x="594.74" textLength="6.24" lengthAdjust="spacingAndGlyphs">-</tspan> <tspan x="606.48" textLength="57.55" lengthAdjust="spacingAndGlyphs">Glider:</tspan> <tspan x="669.52" textLength="88.00" lengthAdjust="spacingAndGlyphs">108.6133,</tspan> <tspan x="768.52" textLength="62.93" lengthAdjust="spacingAndGlyphs">RTOFS:</tspan> <tspan x="836.94" textLength="88.00" lengthAdjust="spacingAndGlyphs">112.6204,</tspan> <tspan x="935.93" textLength="50.23" lengthAdjust="spacingAndGlyphs">ESPC:</tspan> <tspan x="991.66" textLength="88.00" lengthAdjust="spacingAndGlyphs">112.7391,</tspan> <tspan x="1090.65" textLength="69.64" lengthAdjust="spacingAndGlyphs">CMEMS:</tspan> <tspan x="1165.78" textLength="88.00" lengthAdjust="spacingAndGlyphs">123.4390,</tspan></text>
<text y="36.60" font-size="23.44" font-weight="bold"><tspan x="1546.60" textLength="150.15" lengthAdjust="spacingAndGlyphs">Comparison</tspan> <tspan x="1704.57" textLength="68.77" lengthAdjust="spacingAndGlyphs">Date:</tspan> <tspan x="1781.16" textLength="143.69" lengthAdjust="spacingAndGlyphs">2025-09-24</tspan></text>
<text y="89.80" font-size="23.44" font-weight="bold"><tspan x="1546.60" textLength="85.22" lengthAdjust="spacingAndGlyphs">Glider:</tspan> <tspan x="1639.64" textLength="81.51" lengthAdjust="spacingAndGlyphs">SG678</tspan></text>
<text y="116.40" font-size="23.44" font-weight="bold"><tspan x="1546.60" textLength="104.92" lengthAdjust="spacingAndGlyphs">Profiles:</tspan> <tspan x="1659.34" textLength="31.26" lengthAdjust="spacingAndGlyphs">12</tspan></text>
<text y="143.00" font-size="23.44" font-weight="bold"><tspan x="1546.60" textLength="67.22" lengthAdjust="spacingAndGlyphs">First:</tspan> <tspan x="1621.64" textLength="143.69" lengthAdjust="spacingAndGlyphs">2025-09-24</tspan> <tspan x="1773.15" textLength="111.75" lengthAdjust="spacingAndGlyphs">00:53:35</tspan></text>
<text y="169.60" font-size="23.44" font-weight="bold"><tspan x="1546.60" textLength="62.57" lengthAdjust="spacingAndGlyphs">Last:</tspan> <tspan x="1616.99" textLength="143.69" lengthAdjust="spacingAndGlyphs">2025-09-24</tspan> <tspan x="1768.50" textLength="111.75" lengthAdjust="spacingAndGlyphs">21:45:39</tspan></text>
<text y="196.20" font-size="23.44" font-weight="bold"><tspan x="1546.60" textLength="104.82" lengthAdjust="spacingAndGlyphs">Method:</tspan> <tspan x="1659.24" textLength="225.35" lengthAdjust="spacingAndGlyphs">Nearest-Neighbor</tspan></text>
<rect x="1693" y="636.6" width="165" height="144.6" rx="4.2" fill="#fff" stroke="#ccc" stroke-width="1.2"/>
<path d="M1701.2 656.40H1748.9" stroke="#0000ff" stroke-width="2.8" fill="none"/>
<circle cx="1724.6" cy="656.40" r="6.1" fill="#0000ff"/>
<text y="664.60" font-size="23.44" x="1765.40" textLength="73.74" lengthAdjust="spacingAndGlyphs">SG678</text>
<path d="M1701.2 690.80H1748.9" stroke="#ff0000" stroke-width="2.8" fill="none"/>
<circle cx="1724.6" cy="690.80" r="6.1" fill="#ff0000"/>
<text y="699.00" font-size="23.44" x="1765.40" textLength="71.38" lengthAdjust="spacingAndGlyphs">RTOFS</text>
<path d="M1701.2 725.20H1748.9" stroke="#008000" stroke-width="2.8" fill="none"/>
<circle cx="1724.6" cy="725.20" r="6.1" fill="#008000"/>
<text y="733.40" font-size="23.44" x="1765.40" textLength="57.06" lengthAdjust="spacingAndGlyphs">ESPC</text>
<path d="M1701.2 759.60H1748.9" stroke="#ff00ff" stroke-width="2.8" fill="none"/>
<circle cx="1724.6" cy="759.60" r="6.1" fill="#ff00ff"/>
<text y="767.80" font-size="23.44" x="1765.40" textLength="82.00" lengthAdjust="spacingAndGlyphs">CMEMS</text>
<g id="map">
<clipPath id="mclip"><rect x="1584.3" y="306.2" width="382.20000000000005" height="209.8"/></clipPath>
<rect x="1584.3" y="306.2" width="382.20000000000005" height="209.8" fill="#97b6e1"/>
<filter id="rough" x="-2%" y="-2%" width="104%" height="104%"><feTurbulence type="fractalNoise" baseFrequency="0.2" numOctaves="2" seed="7" result="n"/><feDisplacementMap in="SourceGraphic" in2="n" scale="2.8" xChannelSelector="R" yChannelSelector="G"/></filter>
<g clip-path="url(#mclip)"><g filter="url(#rough)" stroke-linejoin="round" stroke-linecap="round">
<path d="M1584.1 331.8L1591.8 330.6L1601.2 331.2L1608.3 330.4L1612.4 334.2L1611.8 340.0L1609.4 345.9L1605.3 350.6L1603.6 357.7L1601.8 366.0L1598.8 375.4L1597.7 382.4L1595.3 390.7L1593.0 397.8L1588.2 402.5L1585.3 404.8L1590.7 406.7L1597.4 404.7L1606.8 405.4L1614.8 404.0L1622.8 402.7L1633.5 404.0L1641.6 406.7L1646.9 410.7L1652.3 412.7L1656.3 416.1L1655.0 422.8L1654.3 429.5L1653.0 436.1L1651.0 444.2L1649.6 453.5L1648.3 461.6L1649.6 468.3L1653.6 475.0L1659.0 480.3L1665.7 485.7L1673.7 491.0L1680.4 492.4L1687.1 490.4L1693.8 487.0L1699.1 483.7L1707.2 483.7L1713.9 485.7L1720.6 489.7L1725.9 493.7L1731.3 497.7L1733.9 501.1L1733.9 496.4L1740.6 489.7L1746.0 484.3L1748.7 477.6L1752.7 471.0L1758.0 465.6L1764.7 464.3L1767.4 462.2L1774.1 461.6L1770.0 462.2L1778.0 460.9L1784.7 456.2L1790.1 451.5L1796.8 447.9L1802.8 449.3L1804.4 453.5L1799.5 456.2L1794.8 458.2L1795.4 462.9L1798.1 466.3L1803.5 464.3L1810.2 462.2L1814.8 460.2L1814.8 453.5L1818.2 451.3L1821.5 454.2L1820.9 459.6L1828.9 459.6L1835.6 462.2L1839.6 466.9L1841.0 471.6L1847.6 471.9L1857.0 470.5L1865.0 470.5L1869.1 474.3L1875.8 477.0L1881.1 477.0L1886.5 474.3L1890.5 472.3L1897.2 470.5L1905.2 469.9L1917.3 468.9L1922.6 468.5L1917.3 471.0L1907.9 472.3L1910.6 477.0L1914.6 479.0L1919.9 479.7L1926.6 483.7L1930.6 488.4L1932.0 493.7L1938.7 495.7L1946.7 499.7L1953.4 504.4L1958.8 509.8L1960.8 516.5L1723.9 516.5L1721.9 512.4L1719.2 507.1L1715.2 501.7L1713.9 496.4L1707.2 491.7L1701.2 492.4L1697.8 494.4L1693.8 497.7L1689.1 500.4L1691.1 503.1L1695.1 507.1L1691.1 511.1L1685.8 512.7L1682.4 507.8L1679.7 504.4L1676.4 511.1L1673.0 508.4L1671.0 503.1L1665.7 500.4L1659.0 499.1L1652.3 496.4L1649.6 492.4L1644.3 487.0L1638.9 483.0L1633.5 480.3L1626.9 479.0L1624.2 476.3L1625.5 471.0L1624.2 465.6L1618.8 460.2L1613.5 453.5L1608.1 446.9L1602.8 441.5L1600.1 437.5L1593.4 438.2L1583.3 436.8L1582.3 436.8L1582.3 331.8Z" fill="#d2b48c" stroke="none"/>
<path d="M1634.1 327.0L1640.1 320.2L1647.7 315.2L1655.2 312.2L1664.3 310.0L1673.4 309.3L1679.4 310.0L1685.5 311.9L1693.0 314.3L1699.1 318.1L1704.4 321.0L1711.9 321.9L1718.0 324.9L1722.5 328.7L1727.0 332.5L1734.6 336.0L1742.9 338.4L1746.7 341.2L1753.5 342.7L1760.3 344.2L1764.8 347.4L1767.7 348.7L1761.1 350.8L1753.5 351.5L1745.9 351.5L1738.4 351.8L1730.8 352.3L1723.9 353.3L1726.3 349.9L1731.0 345.3L1730.1 343.2L1725.5 341.7L1719.5 340.0L1715.7 337.0L1713.4 333.2L1711.2 331.1L1706.6 330.2L1700.6 328.7L1694.5 326.4L1690.8 324.3L1685.5 322.8L1680.9 322.0L1676.4 321.1L1673.4 320.2L1670.4 319.0L1674.1 318.5L1673.4 317.5L1667.3 317.2L1661.3 316.6L1656.7 319.8L1650.7 323.4L1644.7 325.7L1640.1 327.3L1634.8 328.1Z" fill="#d2b48c" stroke="#000" stroke-width="2.6"/>
<path d="M1714.9 373.6L1719.0 371.3L1726.1 370.7L1733.1 371.8L1739.0 374.8L1742.5 377.7L1737.8 380.1L1731.9 381.3L1728.4 380.7L1722.5 378.3L1717.8 376.0Z" fill="#d2b48c" stroke="#000" stroke-width="2.6"/>
<path d="M1775.3 354.8L1783.0 350.6L1788.8 353.0L1797.1 353.6L1805.3 353.0L1812.4 354.8L1819.5 356.5L1821.8 360.1L1828.9 361.2L1831.2 364.2L1836.0 366.5L1839.5 370.1L1837.1 373.0L1835.4 376.0L1828.9 373.6L1821.8 371.3L1815.9 373.0L1810.0 372.4L1805.3 375.4L1801.8 381.3L1798.9 383.6L1797.1 380.1L1793.6 375.4L1787.7 373.6L1779.4 375.4L1773.2 376.6L1764.9 372.6L1763.2 370.3L1770.8 368.9L1781.8 370.7L1787.7 369.5L1785.9 366.0L1784.1 361.2L1779.4 357.7Z" fill="#d2b48c" stroke="#000" stroke-width="2.6"/>
<path d="M1852.4 371.3L1859.5 370.7L1867.8 371.3L1873.7 373.0L1872.5 377.1L1864.2 378.3L1853.0 378.3L1851.9 374.2Z" fill="#d2b48c" stroke="#000" stroke-width="2.6"/>
<path d="M1923.9 468.5L1930.0 468.0L1930.0 477.0L1923.9 477.4L1922.6 473.0Z" fill="#d2b48c" stroke="#000" stroke-width="2.6"/>
<path d="M1772.4 338.3L1775.3 335.3L1780.0 332.4L1781.8 334.2L1779.4 337.7L1774.7 339.8Z" fill="#d2b48c" stroke="#000" stroke-width="2.6"/>
<path d="M1658.3 328.7L1660.5 327.8L1662.2 329.5L1661.3 331.7L1658.9 331.4Z" fill="#d2b48c" stroke="#000" stroke-width="2.6"/>
<path d="M1679.4 309.5L1685.5 310.0L1691.5 311.0L1697.6 313.7L1703.6 316.5L1711.9 316.9L1719.5 319.5L1724.0 323.3L1728.6 328.5L1734.6 333.2L1741.4 336.4L1749.0 338.8L1753.5 341.2L1760.3 342.6L1760.3 344.2L1753.5 342.7L1746.7 341.2L1742.9 338.4L1734.6 336.0L1727.0 332.5L1722.5 328.7L1718.0 324.9L1711.9 321.9L1704.4 321.0L1699.1 318.1L1693.0 314.3L1685.5 311.9L1679.4 310.0Z" fill="#000" stroke="#000" stroke-width="0.8"/>
<path d="M1798.1 466.9L1800.1 472.3L1803.5 477.0L1805.5 481.7L1804.1 487.0L1798.1 489.7L1794.8 485.7L1792.1 481.0L1794.8 476.3L1797.4 473.0Z" fill="#97b6e1" stroke="#000" stroke-width="2.6"/>
<path d="M1615.1 448.5L1620.2 449.8L1626.9 456.2L1634.2 462.9L1629.5 462.7L1624.2 458.9L1620.2 453.5Z" fill="#b7c3d6" stroke="#a9bfe0" stroke-width="0.8"/>
<path d="M1613.5 433.5L1620.2 435.1L1624.2 431.1L1630.9 424.4L1636.2 420.3L1644.3 418.7L1655.6 415.8" fill="none" stroke="#97b6e1" stroke-width="1.8"/>
<path d="M1633.5 462.9L1640.2 465.6L1648.5 469.2" fill="none" stroke="#97b6e1" stroke-width="1.8"/>
<path d="M1758.7 465.6L1758.3 475.0L1759.7 483.0L1767.4 489.7L1771.4 496.4L1770.8 507.1L1770.1 516.2" fill="none" stroke="#97b6e1" stroke-width="1.8"/>
<path d="M1695.1 487.0L1701.2 492.4" fill="none" stroke="#97b6e1" stroke-width="1.8"/>
<path d="M1854.3 515.4L1863.7 508.4L1873.1 505.1L1881.1 507.1L1887.8 503.1L1898.5 500.4L1907.9 496.4L1915.9 494.4L1921.3 493.7L1928.0 491.7" fill="none" stroke="#97b6e1" stroke-width="1.8"/>
<path d="M1915.9 494.0L1915.2 488.4L1912.2 483.0" fill="none" stroke="#97b6e1" stroke-width="1.8"/>
<path d="M1916.2 492.4L1918.3 487.7L1919.3 483.7" fill="none" stroke="#97b6e1" stroke-width="1.8"/>
<path d="M1921.9 477.6L1923.9 485.7L1921.3 492.4" fill="none" stroke="#97b6e1" stroke-width="1.8"/>
<path d="M1770.0 491.0L1771.3 501.7L1770.5 511.8" fill="none" stroke="#97b6e1" stroke-width="1.8"/>
<path d="M1612.1 433.5L1620.2 430.1L1625.5 426.8L1632.2 421.4L1638.9 419.0L1646.9 417.1L1655.0 415.4" fill="none" stroke="#000" stroke-width="1.8" stroke-dasharray="4.4 2.6" stroke-linecap="butt"/>
<path d="M1584.0 424.8L1593.4 428.1L1601.4 430.1L1610.8 432.1L1612.1 436.8" fill="none" stroke="#000" stroke-width="1.8" stroke-dasharray="4.4 2.6" stroke-linecap="butt"/>
<path d="M1625.5 464.3L1636.2 464.9L1642.9 467.6L1648.5 469.2" fill="none" stroke="#000" stroke-width="1.8" stroke-dasharray="4.4 2.6" stroke-linecap="butt"/>
<path d="M1660.3 485.7L1659.0 492.4L1661.9 496.7" fill="none" stroke="#000" stroke-width="1.8" stroke-dasharray="4.4 2.6" stroke-linecap="butt"/>
<path d="M1732.6 499.7L1727.3 505.8L1721.9 508.7" fill="none" stroke="#000" stroke-width="1.8" stroke-dasharray="4.4 2.6" stroke-linecap="butt"/>
<path d="M1585.3 368.9L1590.6 370.7L1594.1 366.0" fill="none" stroke="#000" stroke-width="1.8" stroke-dasharray="4.4 2.6" stroke-linecap="butt"/>
<path d="M1584.1 381.3L1591.8 381.3L1592.4 398.9" fill="none" stroke="#000" stroke-width="1.8" stroke-dasharray="4.4 2.6" stroke-linecap="butt"/>
<path d="M1796.5 354.2L1795.7 361.2L1797.3 368.9L1793.3 370.7L1798.0 375.6" fill="none" stroke="#000" stroke-width="1.8" stroke-dasharray="4.4 2.6" stroke-linecap="butt"/>
<path d="M1792.8 458.9L1786.1 465.6L1782.0 475.0L1779.4 483.0L1776.7 487.7L1783.4 489.7L1787.4 496.4L1789.0 503.1L1787.4 507.1L1791.4 512.4L1799.5 515.1L1812.8 514.9" fill="none" stroke="#000" stroke-width="1.8" stroke-dasharray="4.4 2.6" stroke-linecap="butt"/>
<path d="M1942.7 499.1L1937.3 503.1L1933.3 508.4L1934.7 513.8L1936.7 516.2" fill="none" stroke="#000" stroke-width="1.8" stroke-dasharray="4.4 2.6" stroke-linecap="butt"/>
<path d="M1584.1 331.8L1591.8 330.6L1601.2 331.2L1608.3 330.4L1612.4 334.2L1611.8 340.0L1609.4 345.9L1605.3 350.6L1603.6 357.7L1601.8 366.0L1598.8 375.4L1597.7 382.4L1595.3 390.7L1593.0 397.8L1588.2 402.5L1585.3 404.8L1590.7 406.7L1597.4 404.7L1606.8 405.4L1614.8 404.0L1622.8 402.7L1633.5 404.0L1641.6 406.7L1646.9 410.7L1652.3 412.7L1656.3 416.1L1655.0 422.8L1654.3 429.5L1653.0 436.1L1651.0 444.2L1649.6 453.5L1648.3 461.6L1649.6 468.3L1653.6 475.0L1659.0 480.3L1665.7 485.7L1673.7 491.0L1680.4 492.4L1687.1 490.4L1693.8 487.0L1699.1 483.7L1707.2 483.7L1713.9 485.7L1720.6 489.7L1725.9 493.7L1731.3 497.7L1733.9 501.1L1733.9 496.4L1740.6 489.7L1746.0 484.3L1748.7 477.6L1752.7 471.0L1758.0 465.6L1764.7 464.3L1767.4 462.2L1774.1 461.6L1770.0 462.2L1778.0 460.9L1784.7 456.2L1790.1 451.5L1796.8 447.9L1802.8 449.3L1804.4 453.5L1799.5 456.2L1794.8 458.2L1795.4 462.9L1798.1 466.3L1803.5 464.3L1810.2 462.2L1814.8 460.2L1814.8 453.5L1818.2 451.3L1821.5 454.2L1820.9 459.6L1828.9 459.6L1835.6 462.2L1839.6 466.9L1841.0 471.6L1847.6 471.9L1857.0 470.5L1865.0 470.5L1869.1 474.3L1875.8 477.0L1881.1 477.0L1886.5 474.3L1890.5 472.3L1897.2 470.5L1905.2 469.9L1917.3 468.9L1922.6 468.5L1917.3 471.0L1907.9 472.3L1910.6 477.0L1914.6 479.0L1919.9 479.7L1926.6 483.7L1930.6 488.4L1932.0 493.7L1938.7 495.7L1946.7 499.7L1953.4 504.4L1958.8 509.8L1960.8 516.5" fill="none" stroke="#000" stroke-width="2.6"/>
<path d="M1723.9 516.5L1721.9 512.4L1719.2 507.1L1715.2 501.7L1713.9 496.4L1707.2 491.7L1701.2 492.4L1697.8 494.4L1693.8 497.7L1689.1 500.4L1691.1 503.1L1695.1 507.1L1691.1 511.1L1685.8 512.7L1682.4 507.8L1679.7 504.4L1676.4 511.1L1673.0 508.4L1671.0 503.1L1665.7 500.4L1659.0 499.1L1652.3 496.4L1649.6 492.4L1644.3 487.0L1638.9 483.0L1633.5 480.3L1626.9 479.0L1624.2 476.3L1625.5 471.0L1624.2 465.6L1618.8 460.2L1613.5 453.5L1608.1 446.9L1602.8 441.5L1600.1 437.5L1593.4 438.2L1583.3 436.8" fill="none" stroke="#000" stroke-width="2.6"/>
<path d="M1634.4 327.0L1637.5 325.7L1641.3 325.1" fill="none" stroke="#000" stroke-width="3.2"/>
<path d="M1650.3 325.5L1656.4 326.0" fill="none" stroke="#000" stroke-width="1.8"/>
<path d="M1660.5 321.5L1659.4 324.9L1661.3 327.9" fill="none" stroke="#000" stroke-width="3.4"/>
<path d="M1655.6 327.9L1656.7 331.3L1660.5 332.6L1664.3 331.1L1663.9 328.3" fill="none" stroke="#000" stroke-width="2.6"/>
<path d="M1664.3 330.4L1670.4 329.6L1676.4 329.9L1681.7 329.5" fill="none" stroke="#000" stroke-width="2.4"/>
<path d="M1668.8 319.8L1673.4 322.0L1680.9 323.6" fill="none" stroke="#000" stroke-width="3.6"/>
<path d="M1664.3 317.4L1670.4 317.1L1674.5 318.1" fill="none" stroke="#000" stroke-width="2.2"/>
<path d="M1701.5 336.7L1706.6 340.0L1711.9 343.1L1718.0 345.3L1723.3 346.5" fill="none" stroke="#000" stroke-width="2.8"/>
<path d="M1707.4 334.1L1710.4 337.0L1713.8 339.4" fill="none" stroke="#000" stroke-width="2.4"/>
<path d="M1710.4 331.7L1711.9 335.5" fill="none" stroke="#000" stroke-width="2.4"/>
<path d="M1693.4 355.5L1698.7 354.8" fill="none" stroke="#000" stroke-width="2.4"/>
<path d="M1753.5 307.5L1749.0 310.6L1745.3 315.8L1745.9 320.4L1748.4 324.3" fill="none" stroke="#000" stroke-width="1.7"/>
<path d="M1756.1 309.4L1758.6 313.7" fill="none" stroke="#000" stroke-width="2.6"/>
<path d="M1764.8 314.5L1772.4 316.8L1767.9 319.8L1762.7 323.9" fill="none" stroke="#000" stroke-width="2.6"/>
<path d="M1770.5 310.6L1773.1 310.9" fill="none" stroke="#000" stroke-width="2.6"/>
<path d="M1612.0 335.3L1611.6 340.6L1609.4 346.2L1605.3 350.9L1603.6 358.0L1601.9 366.0" fill="none" stroke="#000" stroke-width="3.0"/>
<path d="M1601.9 366.0L1599.4 375.4L1597.7 382.4L1595.3 390.7L1592.7 398.0L1588.2 402.7" fill="none" stroke="#000" stroke-width="3.4"/>
<path d="M1587.1 375.6L1591.8 372.4L1595.9 368.9" fill="none" stroke="#000" stroke-width="2.4"/>
<path d="M1595.3 369.5L1597.7 376.6L1595.9 384.8L1598.3 387.2" fill="none" stroke="#000" stroke-width="2.6"/>
<path d="M1600.6 355.4L1603.6 358.9" fill="none" stroke="#000" stroke-width="2.4"/>
<path d="M1608.3 346.5L1611.2 344.5" fill="none" stroke="#000" stroke-width="2.6"/>
<path d="M1613.6 398.7L1618.9 397.5L1623.0 397.3" fill="none" stroke="#000" stroke-width="2.0"/>
<path d="M1608.9 401.9L1610.4 402.0" fill="none" stroke="#000" stroke-width="2.2"/>
<path d="M1677.5 360.4L1682.2 360.7" fill="none" stroke="#000" stroke-width="2.6"/>
<path d="M1777.7 364.5L1784.1 368.3" fill="none" stroke="#000" stroke-width="2.6"/>
<path d="M1822.4 360.3L1828.3 362.4" fill="none" stroke="#000" stroke-width="3.0"/>
<path d="M1874.8 374.0L1880.7 372.1L1886.0 370.7L1888.7 368.3" fill="none" stroke="#000" stroke-width="2.2"/>
<path d="M1880.7 381.3L1885.4 380.6" fill="none" stroke="#000" stroke-width="2.4"/>
<path d="M1779.4 320.3L1784.7 321.4" fill="none" stroke="#000" stroke-width="2.2"/>
<path d="M1787.7 329.4L1790.6 326.9L1794.1 326.1L1798.3 328.3L1799.7 330.9L1798.0 335.1" fill="none" stroke="#000" stroke-width="2.0"/>
<path d="M1803.6 332.4L1804.4 334.4" fill="none" stroke="#000" stroke-width="1.8"/>
<path d="M1770.6 317.7L1774.7 317.7" fill="none" stroke="#000" stroke-width="1.8"/>
<path d="M1770.9 311.2L1773.3 311.2" fill="none" stroke="#000" stroke-width="1.6"/>
<path d="M1902.5 374.0L1907.2 378.7" fill="none" stroke="#000" stroke-width="2.2"/>
<path d="M1904.3 384.2L1910.2 388.9" fill="none" stroke="#000" stroke-width="1.8"/>
<path d="M1918.6 381.3L1919.4 382.7" fill="none" stroke="#000" stroke-width="3.2"/>
<path d="M1918.9 388.1L1919.8 390.1" fill="none" stroke="#000" stroke-width="3.4"/>
<path d="M1913.9 393.1L1914.9 394.5" fill="none" stroke="#000" stroke-width="2.0"/>
<path d="M1919.6 398.4L1921.9 403.7L1926.7 400.1L1923.1 397.5" fill="none" stroke="#000" stroke-width="3.0"/>
<path d="M1925.2 403.4L1926.4 404.8" fill="none" stroke="#000" stroke-width="2.4"/>
<path d="M1923.1 407.8L1926.1 409.0" fill="none" stroke="#000" stroke-width="2.4"/>
<path d="M1922.6 401.1L1924.8 403.7" fill="none" stroke="#000" stroke-width="3.6"/>
<path d="M1924.5 408.3L1925.6 411.8" fill="none" stroke="#000" stroke-width="3.8"/>
<path d="M1927.7 418.5L1929.8 422.0" fill="none" stroke="#000" stroke-width="4.2"/>
<path d="M1929.6 428.1L1930.0 430.8" fill="none" stroke="#000" stroke-width="3.8"/>
<path d="M1926.4 437.8L1926.8 440.2" fill="none" stroke="#000" stroke-width="3.2"/>
<path d="M1925.0 443.5L1922.6 447.5" fill="none" stroke="#000" stroke-width="1.8"/>
<path d="M1921.0 450.6L1919.3 453.5" fill="none" stroke="#000" stroke-width="2.4"/>
<path d="M1946.4 438.0L1947.5 439.6" fill="none" stroke="#000" stroke-width="3.6"/>
<path d="M1931.3 463.6L1935.3 461.8" fill="none" stroke="#000" stroke-width="2.4"/>
<path d="M1817.1 446.2L1819.8 447.9" fill="none" stroke="#000" stroke-width="2.2"/>
<path d="M1828.2 448.5L1833.6 453.3" fill="none" stroke="#000" stroke-width="2.2"/>
<path d="M1838.0 449.8L1839.9 452.5" fill="none" stroke="#000" stroke-width="2.2"/>
<path d="M1846.6 453.3L1849.8 454.1" fill="none" stroke="#000" stroke-width="1.4"/>
<path d="M1856.3 454.2L1860.4 456.0" fill="none" stroke="#000" stroke-width="3.0"/>
<path d="M1864.8 454.9L1866.7 455.4" fill="none" stroke="#000" stroke-width="1.8"/>
<path d="M1883.8 454.6L1886.7 456.0" fill="none" stroke="#000" stroke-width="1.8"/>
<path d="M1874.4 466.3L1877.4 466.9" fill="none" stroke="#000" stroke-width="2.4"/>
<path d="M1886.7 465.9L1894.5 464.3L1891.2 468.9L1895.2 471.6" fill="none" stroke="#000" stroke-width="4.0"/>
<path d="M1901.9 460.9L1903.3 461.8" fill="none" stroke="#000" stroke-width="2.0"/>
<path d="M1850.3 400.0L1857.0 400.3" fill="none" stroke="#000" stroke-width="2.4"/>
<path d="M1677.7 435.6L1679.1 436.9" fill="none" stroke="#000" stroke-width="2.2"/>
<path d="M1673.7 445.8L1675.0 447.4" fill="none" stroke="#000" stroke-width="2.2"/>
<path d="M1659.0 422.1L1663.7 424.8" fill="none" stroke="#000" stroke-width="2.6"/>
<path d="M1660.3 412.7L1663.7 414.1" fill="none" stroke="#000" stroke-width="1.6"/>
<path d="M1649.6 446.2L1652.3 448.2" fill="none" stroke="#000" stroke-width="2.0"/>
<path d="M1657.0 450.2L1658.3 451.5" fill="none" stroke="#000" stroke-width="1.4"/>
<path d="M1598.7 436.1L1604.8 440.8" fill="none" stroke="#000" stroke-width="3.6"/>
<path d="M1629.5 475.6L1636.2 480.3" fill="none" stroke="#000" stroke-width="3.0"/>
<path d="M1651.0 494.4L1659.0 499.7" fill="none" stroke="#000" stroke-width="2.6"/>
<path d="M1665.7 499.7L1673.7 503.1" fill="none" stroke="#000" stroke-width="2.6"/>
<path d="M1672.4 507.1L1674.4 511.1" fill="none" stroke="#000" stroke-width="3.4"/>
<path d="M1679.1 505.8L1682.4 507.8" fill="none" stroke="#000" stroke-width="3.0"/>
<path d="M1665.7 487.0L1672.4 490.4" fill="none" stroke="#000" stroke-width="3.0"/>
<path d="M1705.8 496.4L1709.2 500.4" fill="none" stroke="#000" stroke-width="3.6"/>
<path d="M1715.2 498.4L1719.2 499.7" fill="none" stroke="#000" stroke-width="2.6"/>
<path d="M1732.6 501.1L1735.3 503.7" fill="none" stroke="#000" stroke-width="3.0"/>
<path d="M1746.0 476.3L1748.7 479.0" fill="none" stroke="#000" stroke-width="1.6"/>
<path d="M1763.4 466.3L1765.4 468.9" fill="none" stroke="#000" stroke-width="2.6"/>
<path d="M1644.3 409.4L1649.6 412.7" fill="none" stroke="#000" stroke-width="2.4"/>
<path d="M1796.1 464.3L1798.8 469.6" fill="none" stroke="#000" stroke-width="3.0"/>
<path d="M1792.1 450.2L1798.8 448.2" fill="none" stroke="#000" stroke-width="2.6"/>
<path d="M1930.0 487.0L1932.7 495.0" fill="none" stroke="#000" stroke-width="3.0"/>
<path d="M1887.8 472.3L1895.8 471.0" fill="none" stroke="#000" stroke-width="3.4"/>
</g>
<circle cx="1853.4" cy="396.6" r="4.1" fill="#ff0000" stroke="#000" stroke-width="1.3"/>
</g>
<rect x="1584.3" y="306.2" width="382.20000000000005" height="209.8" fill="none" stroke="#000" stroke-width="1.1"/>
<path d="M1634.50 516.0v8.6M1634.50 306.2v-8.6M1695.94 516.0v8.6M1695.94 306.2v-8.6M1757.38 516.0v8.6M1757.38 306.2v-8.6M1818.82 516.0v8.6M1818.82 306.2v-8.6M1880.26 516.0v8.6M1880.26 306.2v-8.6M1941.70 516.0v8.6M1941.70 306.2v-8.6M1584.3 478.62h-8.6M1966.5 478.62h8.6M1584.3 416.30h-8.6M1966.5 416.30h8.6M1584.3 352.50h-8.6M1966.5 352.50h8.6" stroke="#000" stroke-width="2.8" fill="none"/>
<path d="M1585.35 516.0v3.2M1585.35 306.2v-3.2M1597.64 516.0v3.2M1597.64 306.2v-3.2M1609.92 516.0v3.2M1609.92 306.2v-3.2M1622.21 516.0v3.2M1622.21 306.2v-3.2M1646.79 516.0v3.2M1646.79 306.2v-3.2M1659.08 516.0v3.2M1659.08 306.2v-3.2M1671.36 516.0v3.2M1671.36 306.2v-3.2M1683.65 516.0v3.2M1683.65 306.2v-3.2M1708.23 516.0v3.2M1708.23 306.2v-3.2M1720.52 516.0v3.2M1720.52 306.2v-3.2M1732.80 516.0v3.2M1732.80 306.2v-3.2M1745.09 516.0v3.2M1745.09 306.2v-3.2M1769.67 516.0v3.2M1769.67 306.2v-3.2M1781.96 516.0v3.2M1781.96 306.2v-3.2M1794.24 516.0v3.2M1794.24 306.2v-3.2M1806.53 516.0v3.2M1806.53 306.2v-3.2M1831.11 516.0v3.2M1831.11 306.2v-3.2M1843.40 516.0v3.2M1843.40 306.2v-3.2M1855.68 516.0v3.2M1855.68 306.2v-3.2M1867.97 516.0v3.2M1867.97 306.2v-3.2M1892.55 516.0v3.2M1892.55 306.2v-3.2M1904.84 516.0v3.2M1904.84 306.2v-3.2M1917.12 516.0v3.2M1917.12 306.2v-3.2M1929.41 516.0v3.2M1929.41 306.2v-3.2M1953.99 516.0v3.2M1953.99 306.2v-3.2M1966.28 516.0v3.2M1966.28 306.2v-3.2M1584.3 515.53h-3.2M1966.5 515.53h3.2M1584.3 503.26h-3.2M1966.5 503.26h3.2M1584.3 490.96h-3.2M1966.5 490.96h3.2M1584.3 466.25h-3.2M1966.5 466.25h3.2M1584.3 453.84h-3.2M1966.5 453.84h3.2M1584.3 441.38h-3.2M1966.5 441.38h3.2M1584.3 428.87h-3.2M1966.5 428.87h3.2M1584.3 403.68h-3.2M1966.5 403.68h3.2M1584.3 390.99h-3.2M1966.5 390.99h3.2M1584.3 378.23h-3.2M1966.5 378.23h3.2M1584.3 365.41h-3.2M1966.5 365.41h3.2M1584.3 339.51h-3.2M1966.5 339.51h3.2M1584.3 326.44h-3.2M1966.5 326.44h3.2M1584.3 313.27h-3.2M1966.5 313.27h3.2" stroke="#000" stroke-width="1.4" fill="none"/>
<text y="487.32" font-size="23.44" x="1512.59" textLength="56.01" lengthAdjust="spacingAndGlyphs">10°N</text>
<text y="425.00" font-size="23.44" x="1512.59" textLength="56.01" lengthAdjust="spacingAndGlyphs">15°N</text>
<text y="361.20" font-size="23.44" x="1512.59" textLength="56.01" lengthAdjust="spacingAndGlyphs">20°N</text>
<g transform="translate(1615.55 589.00) rotate(-45)"><text y="0.00" font-size="23.44" x="0.00" textLength="61.35" lengthAdjust="spacingAndGlyphs">85°W</text></g>
<g transform="translate(1676.99 589.00) rotate(-45)"><text y="0.00" font-size="23.44" x="0.00" textLength="61.35" lengthAdjust="spacingAndGlyphs">80°W</text></g>
<g transform="translate(1738.43 589.00) rotate(-45)"><text y="0.00" font-size="23.44" x="0.00" textLength="61.35" lengthAdjust="spacingAndGlyphs">75°W</text></g>
<g transform="translate(1799.87 589.00) rotate(-45)"><text y="0.00" font-size="23.44" x="0.00" textLength="61.35" lengthAdjust="spacingAndGlyphs">70°W</text></g>
<g transform="translate(1861.31 589.00) rotate(-45)"><text y="0.00" font-size="23.44" x="0.00" textLength="61.35" lengthAdjust="spacingAndGlyphs">65°W</text></g>
<g transform="translate(1922.75 589.00) rotate(-45)"><text y="0.00" font-size="23.44" x="0.00" textLength="61.35" lengthAdjust="spacingAndGlyphs">60°W</text></g>
</g>
</svg>
</body></html>
